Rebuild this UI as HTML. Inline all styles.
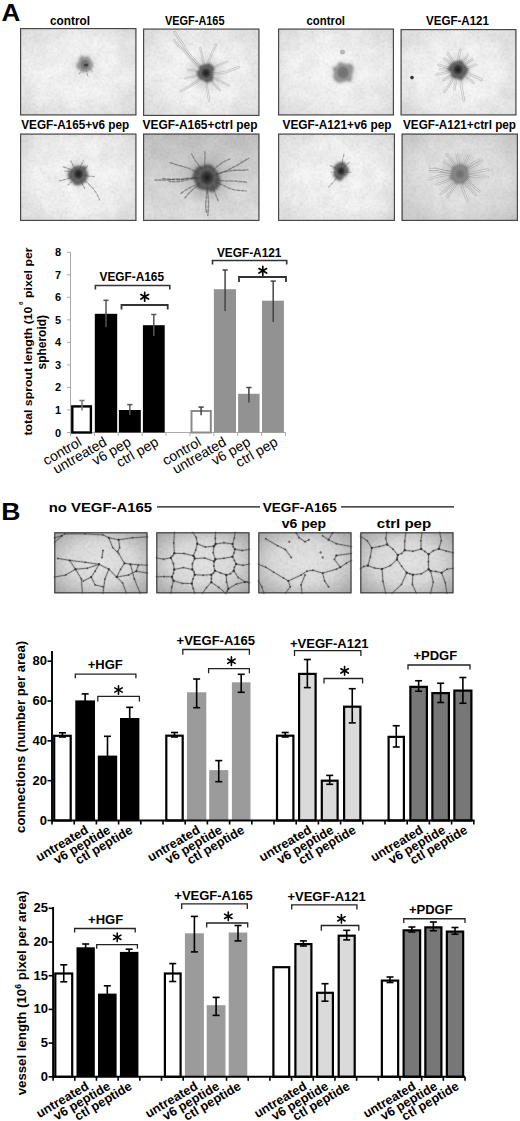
<!DOCTYPE html><html><head><meta charset="utf-8"><style>html,body{margin:0;padding:0;background:#fff;width:520px;height:1121px;overflow:hidden}svg{display:block}</style></head><body>
<svg width="520" height="1121" viewBox="0 0 520 1121" font-family="Liberation Sans, sans-serif">
<defs>
<radialGradient id="vig" cx="50%" cy="50%" r="70%">
<stop offset="0" stop-color="#f9f9f9"/><stop offset="0.55" stop-color="#f4f4f4"/><stop offset="1" stop-color="#e0e0e0"/></radialGradient>
<radialGradient id="vig2" cx="50%" cy="50%" r="70%">
<stop offset="0" stop-color="#e4e4e4"/><stop offset="0.5" stop-color="#dadada"/><stop offset="1" stop-color="#a6a6a6"/></radialGradient>
<radialGradient id="vig8" cx="50%" cy="50%" r="70%"><stop offset="0" stop-color="#ebebeb"/><stop offset="0.55" stop-color="#e2e2e2"/><stop offset="1" stop-color="#c9c9c9"/></radialGradient>
<linearGradient id="vig6" x1="0" y1="0" x2="0" y2="1"><stop offset="0" stop-color="#c4c4c4"/><stop offset="0.5" stop-color="#d8d8d8"/><stop offset="1" stop-color="#e2e2e2"/></linearGradient>
<radialGradient id="blob1"><stop offset="0" stop-color="#555"/><stop offset="0.55" stop-color="#666" stop-opacity="0.9"/><stop offset="1" stop-color="#999" stop-opacity="0"/></radialGradient>
<radialGradient id="blob2"><stop offset="0" stop-color="#1a1a1a"/><stop offset="0.5" stop-color="#3a3a3a" stop-opacity="0.9"/><stop offset="1" stop-color="#888" stop-opacity="0"/></radialGradient>
<radialGradient id="blob3"><stop offset="0" stop-color="#707070"/><stop offset="0.6" stop-color="#787878" stop-opacity="0.95"/><stop offset="1" stop-color="#aaa" stop-opacity="0"/></radialGradient>
<radialGradient id="blob4"><stop offset="0" stop-color="#6a6a6a"/><stop offset="0.5" stop-color="#7a7a7a" stop-opacity="0.85"/><stop offset="1" stop-color="#aaa" stop-opacity="0"/></radialGradient>
<radialGradient id="halo"><stop offset="0" stop-color="#555"/><stop offset="0.4" stop-color="#777" stop-opacity="0.7"/><stop offset="1" stop-color="#999" stop-opacity="0"/></radialGradient>
<filter id="sblur" x="-20%" y="-20%" width="140%" height="140%"><feGaussianBlur stdDeviation="0.65"/></filter>
<filter id="bblur" x="-30%" y="-30%" width="160%" height="160%"><feGaussianBlur stdDeviation="1.1"/></filter>
<filter id="noise" x="0" y="0" width="100%" height="100%"><feTurbulence type="fractalNoise" baseFrequency="0.35" numOctaves="2" seed="3"/><feColorMatrix type="matrix" values="0 0 0 0 0  0 0 0 0 0  0 0 0 0 0  0 0 0 1.6 -0.6"/><feComposite in2="SourceGraphic" operator="in"/></filter>
<filter id="noise2" x="0" y="0" width="100%" height="100%"><feTurbulence type="fractalNoise" baseFrequency="0.06" numOctaves="3" seed="7"/><feColorMatrix type="matrix" values="0 0 0 0 0  0 0 0 0 0  0 0 0 0 0  0 0 0 1.2 -0.3"/><feComposite in2="SourceGraphic" operator="in"/></filter>
</defs>
<rect x="0" y="0" width="520" height="1121" fill="#fff"/>
<text x="1.6" y="21.4" font-size="23.2" font-weight="bold" text-anchor="start" fill="#000" textLength="18.8" lengthAdjust="spacingAndGlyphs" >A</text>
<g>
<rect x="20" y="28" width="116.5" height="87.5" fill="url(#vig)"/>
<rect x="20" y="28" width="116.5" height="87.5" fill="#000" filter="url(#noise)" opacity="0.06"/>
<rect x="20" y="28" width="116.5" height="87.5" fill="#000" filter="url(#noise2)" opacity="0.07"/>
<g filter="url(#sblur)">
<path d="M85.0 64.5 L86.1 68.4 L86.7 72.3 L87.9 76.1" fill="none" stroke="#555" stroke-width="1" opacity="0.5" stroke-linecap="round" stroke-linejoin="round" stroke-dasharray="3 1.6"/>
<path d="M85.0 64.5 L82.9 67.5 L81.1 70.7 L79.3 73.9" fill="none" stroke="#555" stroke-width="1" opacity="0.5" stroke-linecap="round" stroke-linejoin="round" stroke-dasharray="3 1.6"/>
<path d="M85.0 64.5 L87.6 66.5 L89.9 68.9 L92.4 71.2" fill="none" stroke="#555" stroke-width="1" opacity="0.5" stroke-linecap="round" stroke-linejoin="round" stroke-dasharray="3 1.6"/>
</g>
<circle cx="85" cy="64.5" r="13" fill="url(#halo)" opacity="0.25"/>
<polygon points="93.2,64.5 92.3,67.8 90.5,70.6 87.7,71.6 85.0,71.9 82.0,72.4 80.2,69.8 76.7,68.3 76.4,64.5 78.7,61.6 79.4,58.3 81.6,55.5 85.0,57.3 88.2,56.1 90.0,59.0 91.8,61.4" fill="#7a7a7a" opacity="0.75" filter="url(#bblur)"/>
<ellipse cx="85" cy="64.5" rx="6.24" ry="6.63" fill="url(#blob3)"/>
<ellipse cx="86" cy="65.0" rx="2.2" ry="1.6" fill="#333" opacity="0.8"/>
<rect x="20.6" y="28.6" width="115.3" height="86.3" fill="none" stroke="#444" stroke-width="1.15"/>
</g>
<g>
<rect x="143" y="28.5" width="116.5" height="87.5" fill="url(#vig)"/>
<rect x="143" y="28.5" width="116.5" height="87.5" fill="#000" filter="url(#noise)" opacity="0.06"/>
<rect x="143" y="28.5" width="116.5" height="87.5" fill="#000" filter="url(#noise2)" opacity="0.07"/>
<g filter="url(#sblur)">
<path d="M206.0 73.0 L201.5 68.3 L197.4 63.2 L193.0 58.5 L188.7 53.6 L185.1 48.2 L181.8 42.6 L178.2 37.2 L174.4 31.9" fill="none" stroke="#777" stroke-width="2.5999999999999996" opacity="0.35" stroke-linecap="round" stroke-linejoin="round" stroke-dasharray="4 1.5"/>
<path d="M206.0 73.0 L201.5 68.3 L197.4 63.2 L193.0 58.5 L188.7 53.6 L185.1 48.2 L181.8 42.6 L178.2 37.2 L174.4 31.9" fill="none" stroke="#f4f4f4" stroke-width="0.98" opacity="0.9" stroke-linecap="round" stroke-linejoin="round"/>
<path d="M206.0 73.0 L200.8 68.9 L196.2 64.3 L191.5 59.7 L187.4 54.6 L182.9 49.7 L178.1 45.3 L173.9 40.2" fill="none" stroke="#777" stroke-width="2.4" opacity="0.35" stroke-linecap="round" stroke-linejoin="round" stroke-dasharray="4 1.5"/>
<path d="M206.0 73.0 L200.8 68.9 L196.2 64.3 L191.5 59.7 L187.4 54.6 L182.9 49.7 L178.1 45.3 L173.9 40.2" fill="none" stroke="#f4f4f4" stroke-width="0.84" opacity="0.9" stroke-linecap="round" stroke-linejoin="round"/>
<path d="M206.0 73.0 L204.9 66.6 L202.8 60.4 L201.8 54.0 L200.1 47.7" fill="none" stroke="#777" stroke-width="2.2" opacity="0.35" stroke-linecap="round" stroke-linejoin="round" stroke-dasharray="4 1.5"/>
<path d="M206.0 73.0 L204.9 66.6 L202.8 60.4 L201.8 54.0 L200.1 47.7" fill="none" stroke="#f4f4f4" stroke-width="0.70" opacity="0.9" stroke-linecap="round" stroke-linejoin="round"/>
<path d="M206.0 73.0 L207.5 67.2 L208.7 61.3 L210.9 55.7 L213.2 50.2 L216.0 44.9" fill="none" stroke="#777" stroke-width="2.4" opacity="0.35" stroke-linecap="round" stroke-linejoin="round" stroke-dasharray="4 1.5"/>
<path d="M206.0 73.0 L207.5 67.2 L208.7 61.3 L210.9 55.7 L213.2 50.2 L216.0 44.9" fill="none" stroke="#f4f4f4" stroke-width="0.84" opacity="0.9" stroke-linecap="round" stroke-linejoin="round"/>
<path d="M206.0 73.0 L210.7 69.3 L215.9 66.2 L221.4 63.8 L227.0 61.7" fill="none" stroke="#777" stroke-width="2.2" opacity="0.35" stroke-linecap="round" stroke-linejoin="round" stroke-dasharray="4 1.5"/>
<path d="M206.0 73.0 L210.7 69.3 L215.9 66.2 L221.4 63.8 L227.0 61.7" fill="none" stroke="#f4f4f4" stroke-width="0.70" opacity="0.9" stroke-linecap="round" stroke-linejoin="round"/>
<path d="M206.0 73.0 L212.8 73.5 L219.6 73.0 L226.3 71.9 L232.7 69.6 L239.0 67.0" fill="none" stroke="#777" stroke-width="2.5" opacity="0.35" stroke-linecap="round" stroke-linejoin="round" stroke-dasharray="4 1.5"/>
<path d="M206.0 73.0 L212.8 73.5 L219.6 73.0 L226.3 71.9 L232.7 69.6 L239.0 67.0" fill="none" stroke="#f4f4f4" stroke-width="0.91" opacity="0.9" stroke-linecap="round" stroke-linejoin="round"/>
<path d="M206.0 73.0 L211.5 76.5 L217.3 79.5 L223.0 82.5 L228.8 85.5" fill="none" stroke="#777" stroke-width="2.2" opacity="0.35" stroke-linecap="round" stroke-linejoin="round" stroke-dasharray="4 1.5"/>
<path d="M206.0 73.0 L211.5 76.5 L217.3 79.5 L223.0 82.5 L228.8 85.5" fill="none" stroke="#f4f4f4" stroke-width="0.70" opacity="0.9" stroke-linecap="round" stroke-linejoin="round"/>
<path d="M206.0 73.0 L210.4 78.9 L214.7 84.8 L219.8 90.1" fill="none" stroke="#777" stroke-width="2.2" opacity="0.35" stroke-linecap="round" stroke-linejoin="round" stroke-dasharray="4 1.5"/>
<path d="M206.0 73.0 L210.4 78.9 L214.7 84.8 L219.8 90.1" fill="none" stroke="#f4f4f4" stroke-width="0.70" opacity="0.9" stroke-linecap="round" stroke-linejoin="round"/>
<path d="M206.0 73.0 L206.9 79.9 L206.9 86.9 L208.0 93.9 L209.1 100.8" fill="none" stroke="#777" stroke-width="2.4" opacity="0.35" stroke-linecap="round" stroke-linejoin="round" stroke-dasharray="4 1.5"/>
<path d="M206.0 73.0 L206.9 79.9 L206.9 86.9 L208.0 93.9 L209.1 100.8" fill="none" stroke="#f4f4f4" stroke-width="0.84" opacity="0.9" stroke-linecap="round" stroke-linejoin="round"/>
<path d="M206.0 73.0 L201.3 77.3 L196.6 81.7 L191.2 85.1 L185.8 88.5 L180.3 91.8" fill="none" stroke="#777" stroke-width="2.5" opacity="0.35" stroke-linecap="round" stroke-linejoin="round" stroke-dasharray="4 1.5"/>
<path d="M206.0 73.0 L201.3 77.3 L196.6 81.7 L191.2 85.1 L185.8 88.5 L180.3 91.8" fill="none" stroke="#f4f4f4" stroke-width="0.91" opacity="0.9" stroke-linecap="round" stroke-linejoin="round"/>
<path d="M206.0 73.0 L199.1 75.5 L191.9 76.9 L184.7 78.4" fill="none" stroke="#777" stroke-width="2.2" opacity="0.35" stroke-linecap="round" stroke-linejoin="round" stroke-dasharray="4 1.5"/>
<path d="M206.0 73.0 L199.1 75.5 L191.9 76.9 L184.7 78.4" fill="none" stroke="#f4f4f4" stroke-width="0.70" opacity="0.9" stroke-linecap="round" stroke-linejoin="round"/>
<path d="M206.0 73.0 L200.2 71.3 L194.3 70.5 L188.3 69.9" fill="none" stroke="#777" stroke-width="2.2" opacity="0.35" stroke-linecap="round" stroke-linejoin="round" stroke-dasharray="4 1.5"/>
<path d="M206.0 73.0 L200.2 71.3 L194.3 70.5 L188.3 69.9" fill="none" stroke="#f4f4f4" stroke-width="0.70" opacity="0.9" stroke-linecap="round" stroke-linejoin="round"/>
</g>
<circle cx="206" cy="73" r="22" fill="url(#halo)" opacity="0.35"/>
<polygon points="213.1,73.0 213.2,76.3 212.8,80.5 209.5,82.3 206.0,82.4 203.2,80.6 200.1,79.5 198.1,76.6 196.2,73.0 199.1,69.8 199.5,65.9 202.9,64.7 206.0,64.1 209.7,63.3 212.6,65.8 214.5,69.1" fill="#3a3a3a" opacity="0.75" filter="url(#bblur)"/>
<ellipse cx="206" cy="73" rx="6.80" ry="7.22" fill="url(#blob2)"/>
<rect x="143.6" y="29.1" width="115.3" height="86.3" fill="none" stroke="#444" stroke-width="1.15"/>
</g>
<g>
<rect x="278" y="28.5" width="116" height="87.0" fill="url(#vig)"/>
<rect x="278" y="28.5" width="116" height="87.0" fill="#000" filter="url(#noise)" opacity="0.06"/>
<rect x="278" y="28.5" width="116" height="87.0" fill="#000" filter="url(#noise2)" opacity="0.07"/>
<g filter="url(#sblur)">
</g>
<circle cx="343" cy="72.5" r="16" fill="url(#halo)" opacity="0.2"/>
<polygon points="352.7,72.5 351.7,76.4 351.3,81.7 346.3,81.2 343.0,82.0 339.0,83.1 335.3,81.0 333.0,77.1 334.1,72.5 332.5,67.7 337.0,65.9 339.1,62.1 343.0,63.1 346.2,64.0 351.0,63.7 353.8,67.6" fill="#7a7a7a" opacity="0.75" filter="url(#bblur)"/>
<ellipse cx="343" cy="72.5" rx="8.00" ry="8.50" fill="url(#blob3)"/>
<rect x="278.6" y="29.1" width="114.8" height="85.8" fill="none" stroke="#444" stroke-width="1.15"/>
</g>
<g>
<rect x="400.5" y="29" width="116.0" height="86.5" fill="url(#vig)"/>
<rect x="400.5" y="29" width="116.0" height="86.5" fill="#000" filter="url(#noise)" opacity="0.06"/>
<rect x="400.5" y="29" width="116.0" height="86.5" fill="#000" filter="url(#noise2)" opacity="0.07"/>
<g filter="url(#sblur)">
<path d="M458.0 69.5 L451.4 68.3 L444.9 67.1 L438.6 64.8" fill="none" stroke="#777" stroke-width="2.5" opacity="0.35" stroke-linecap="round" stroke-linejoin="round" stroke-dasharray="4 1.5"/>
<path d="M458.0 69.5 L451.4 68.3 L444.9 67.1 L438.6 64.8" fill="none" stroke="#f4f4f4" stroke-width="0.91" opacity="0.9" stroke-linecap="round" stroke-linejoin="round"/>
<path d="M458.0 69.5 L453.3 65.7 L448.8 61.8 L444.0 58.2" fill="none" stroke="#777" stroke-width="2.5" opacity="0.35" stroke-linecap="round" stroke-linejoin="round" stroke-dasharray="4 1.5"/>
<path d="M458.0 69.5 L453.3 65.7 L448.8 61.8 L444.0 58.2" fill="none" stroke="#f4f4f4" stroke-width="0.91" opacity="0.9" stroke-linecap="round" stroke-linejoin="round"/>
<path d="M458.0 69.5 L454.4 63.1 L449.9 57.3 L446.4 50.9" fill="none" stroke="#777" stroke-width="2.5" opacity="0.35" stroke-linecap="round" stroke-linejoin="round" stroke-dasharray="4 1.5"/>
<path d="M458.0 69.5 L454.4 63.1 L449.9 57.3 L446.4 50.9" fill="none" stroke="#f4f4f4" stroke-width="0.91" opacity="0.9" stroke-linecap="round" stroke-linejoin="round"/>
<path d="M458.0 69.5 L458.1 62.8 L459.0 56.2 L460.2 49.7" fill="none" stroke="#777" stroke-width="2.5" opacity="0.35" stroke-linecap="round" stroke-linejoin="round" stroke-dasharray="4 1.5"/>
<path d="M458.0 69.5 L458.1 62.8 L459.0 56.2 L460.2 49.7" fill="none" stroke="#f4f4f4" stroke-width="0.91" opacity="0.9" stroke-linecap="round" stroke-linejoin="round"/>
<path d="M458.0 69.5 L461.1 64.4 L464.9 59.7 L467.8 54.5" fill="none" stroke="#777" stroke-width="2.5" opacity="0.35" stroke-linecap="round" stroke-linejoin="round" stroke-dasharray="4 1.5"/>
<path d="M458.0 69.5 L461.1 64.4 L464.9 59.7 L467.8 54.5" fill="none" stroke="#f4f4f4" stroke-width="0.91" opacity="0.9" stroke-linecap="round" stroke-linejoin="round"/>
<path d="M458.0 69.5 L462.8 66.6 L467.2 62.9 L471.8 59.6" fill="none" stroke="#777" stroke-width="2.5" opacity="0.35" stroke-linecap="round" stroke-linejoin="round" stroke-dasharray="4 1.5"/>
<path d="M458.0 69.5 L462.8 66.6 L467.2 62.9 L471.8 59.6" fill="none" stroke="#f4f4f4" stroke-width="0.91" opacity="0.9" stroke-linecap="round" stroke-linejoin="round"/>
<path d="M458.0 69.5 L464.2 68.1 L470.4 66.9 L476.3 64.7" fill="none" stroke="#777" stroke-width="2.5" opacity="0.35" stroke-linecap="round" stroke-linejoin="round" stroke-dasharray="4 1.5"/>
<path d="M458.0 69.5 L464.2 68.1 L470.4 66.9 L476.3 64.7" fill="none" stroke="#f4f4f4" stroke-width="0.91" opacity="0.9" stroke-linecap="round" stroke-linejoin="round"/>
<path d="M458.0 69.5 L464.0 72.1 L470.1 74.3 L476.0 77.1 L481.8 80.0" fill="none" stroke="#777" stroke-width="2.5999999999999996" opacity="0.35" stroke-linecap="round" stroke-linejoin="round" stroke-dasharray="4 1.5"/>
<path d="M458.0 69.5 L464.0 72.1 L470.1 74.3 L476.0 77.1 L481.8 80.0" fill="none" stroke="#f4f4f4" stroke-width="0.98" opacity="0.9" stroke-linecap="round" stroke-linejoin="round"/>
<path d="M458.0 69.5 L463.2 73.6 L467.9 78.3 L473.2 82.5" fill="none" stroke="#777" stroke-width="2.5" opacity="0.35" stroke-linecap="round" stroke-linejoin="round" stroke-dasharray="4 1.5"/>
<path d="M458.0 69.5 L463.2 73.6 L467.9 78.3 L473.2 82.5" fill="none" stroke="#f4f4f4" stroke-width="0.91" opacity="0.9" stroke-linecap="round" stroke-linejoin="round"/>
<path d="M458.0 69.5 L459.5 75.7 L460.9 82.0 L461.7 88.3 L462.8 94.6 L464.0 100.9" fill="none" stroke="#777" stroke-width="2.5999999999999996" opacity="0.35" stroke-linecap="round" stroke-linejoin="round" stroke-dasharray="4 1.5"/>
<path d="M458.0 69.5 L459.5 75.7 L460.9 82.0 L461.7 88.3 L462.8 94.6 L464.0 100.9" fill="none" stroke="#f4f4f4" stroke-width="0.98" opacity="0.9" stroke-linecap="round" stroke-linejoin="round"/>
<path d="M458.0 69.5 L456.5 76.7 L455.4 83.9 L453.9 91.1" fill="none" stroke="#777" stroke-width="2.5" opacity="0.35" stroke-linecap="round" stroke-linejoin="round" stroke-dasharray="4 1.5"/>
<path d="M458.0 69.5 L456.5 76.7 L455.4 83.9 L453.9 91.1" fill="none" stroke="#f4f4f4" stroke-width="0.91" opacity="0.9" stroke-linecap="round" stroke-linejoin="round"/>
<path d="M458.0 69.5 L454.7 75.1 L451.7 80.9 L448.5 86.5 L444.7 91.8" fill="none" stroke="#777" stroke-width="2.5" opacity="0.35" stroke-linecap="round" stroke-linejoin="round" stroke-dasharray="4 1.5"/>
<path d="M458.0 69.5 L454.7 75.1 L451.7 80.9 L448.5 86.5 L444.7 91.8" fill="none" stroke="#f4f4f4" stroke-width="0.91" opacity="0.9" stroke-linecap="round" stroke-linejoin="round"/>
<path d="M458.0 69.5 L453.1 72.9 L448.6 76.9 L443.6 80.2" fill="none" stroke="#777" stroke-width="2.5" opacity="0.35" stroke-linecap="round" stroke-linejoin="round" stroke-dasharray="4 1.5"/>
<path d="M458.0 69.5 L453.1 72.9 L448.6 76.9 L443.6 80.2" fill="none" stroke="#f4f4f4" stroke-width="0.91" opacity="0.9" stroke-linecap="round" stroke-linejoin="round"/>
<path d="M458.0 69.5 L450.8 71.1 L443.7 72.9 L436.6 74.7" fill="none" stroke="#777" stroke-width="2.5" opacity="0.35" stroke-linecap="round" stroke-linejoin="round" stroke-dasharray="4 1.5"/>
<path d="M458.0 69.5 L450.8 71.1 L443.7 72.9 L436.6 74.7" fill="none" stroke="#f4f4f4" stroke-width="0.91" opacity="0.9" stroke-linecap="round" stroke-linejoin="round"/>
<path d="M458.0 69.5 L452.0 68.9 L446.0 69.3 L440.0 69.2" fill="none" stroke="#777" stroke-width="2.5" opacity="0.35" stroke-linecap="round" stroke-linejoin="round" stroke-dasharray="4 1.5"/>
<path d="M458.0 69.5 L452.0 68.9 L446.0 69.3 L440.0 69.2" fill="none" stroke="#f4f4f4" stroke-width="0.91" opacity="0.9" stroke-linecap="round" stroke-linejoin="round"/>
</g>
<circle cx="458" cy="69.5" r="18" fill="url(#halo)" opacity="0.35"/>
<polygon points="468.9,69.5 466.7,73.5 464.5,76.6 462.1,80.4 458.0,78.9 454.7,78.2 451.2,77.0 451.1,72.6 447.1,69.5 449.5,65.6 452.0,62.9 454.9,61.4 458.0,60.9 461.5,60.1 463.5,63.4 465.7,66.0" fill="#3a3a3a" opacity="0.75" filter="url(#bblur)"/>
<ellipse cx="458" cy="69.5" rx="7.20" ry="7.65" fill="url(#blob2)"/>
<rect x="401.1" y="29.6" width="114.8" height="85.3" fill="none" stroke="#444" stroke-width="1.15"/>
</g>
<g>
<rect x="20" y="133.5" width="116.5" height="87.5" fill="url(#vig)"/>
<rect x="20" y="133.5" width="116.5" height="87.5" fill="#000" filter="url(#noise)" opacity="0.06"/>
<rect x="20" y="133.5" width="116.5" height="87.5" fill="#000" filter="url(#noise2)" opacity="0.07"/>
<g filter="url(#sblur)">
<path d="M78.5 174.0 L73.4 170.9 L67.9 168.4 L62.2 166.5" fill="none" stroke="#444" stroke-width="1.2" opacity="0.45" stroke-linecap="round" stroke-linejoin="round" stroke-dasharray="3 1.6"/>
<path d="M78.5 174.0 L75.6 169.9 L73.2 165.6 L70.8 161.1" fill="none" stroke="#444" stroke-width="1.2" opacity="0.45" stroke-linecap="round" stroke-linejoin="round" stroke-dasharray="3 1.6"/>
<path d="M78.5 174.0 L79.7 169.5 L81.1 165.0 L83.2 160.9" fill="none" stroke="#444" stroke-width="1.2" opacity="0.45" stroke-linecap="round" stroke-linejoin="round" stroke-dasharray="3 1.6"/>
<path d="M78.5 174.0 L81.7 171.6 L84.8 169.1 L87.5 166.1" fill="none" stroke="#444" stroke-width="1.2" opacity="0.45" stroke-linecap="round" stroke-linejoin="round" stroke-dasharray="3 1.6"/>
<path d="M78.5 174.0 L83.7 175.3 L88.9 176.1 L94.3 176.6" fill="none" stroke="#444" stroke-width="1.2" opacity="0.45" stroke-linecap="round" stroke-linejoin="round" stroke-dasharray="3 1.6"/>
<path d="M78.5 174.0 L83.2 179.0 L88.2 183.5 L93.0 188.4 L96.9 193.9 L99.8 200.0" fill="none" stroke="#444" stroke-width="1.1" opacity="0.45" stroke-linecap="round" stroke-linejoin="round" stroke-dasharray="3 1.6"/>
<path d="M78.5 174.0 L80.3 179.0 L82.2 184.0 L84.8 188.7" fill="none" stroke="#444" stroke-width="1.2" opacity="0.45" stroke-linecap="round" stroke-linejoin="round" stroke-dasharray="3 1.6"/>
<path d="M78.5 174.0 L75.3 177.9 L71.9 181.5 L68.2 184.8" fill="none" stroke="#444" stroke-width="1.2" opacity="0.45" stroke-linecap="round" stroke-linejoin="round" stroke-dasharray="3 1.6"/>
<path d="M78.5 174.0 L72.3 176.5 L66.2 179.2 L59.8 180.9" fill="none" stroke="#444" stroke-width="1.2" opacity="0.45" stroke-linecap="round" stroke-linejoin="round" stroke-dasharray="3 1.6"/>
<path d="M78.5 174.0 L74.1 172.5 L69.5 171.4 L64.9 171.1" fill="none" stroke="#444" stroke-width="1.2" opacity="0.45" stroke-linecap="round" stroke-linejoin="round" stroke-dasharray="3 1.6"/>
</g>
<circle cx="78.5" cy="174" r="16" fill="url(#halo)" opacity="0.35"/>
<polygon points="88.2,174.0 87.3,178.0 85.6,181.8 82.3,184.1 78.5,185.5 74.4,185.0 72.0,181.2 68.5,178.5 67.6,174.0 70.1,170.2 72.8,167.8 75.5,165.9 78.5,165.8 81.5,166.1 85.9,165.9 86.3,170.5" fill="#3a3a3a" opacity="0.75" filter="url(#bblur)"/>
<ellipse cx="78.5" cy="174" rx="7.20" ry="7.65" fill="url(#blob2)"/>
<rect x="20.6" y="134.1" width="115.3" height="86.3" fill="none" stroke="#444" stroke-width="1.15"/>
</g>
<g>
<rect x="143" y="133.5" width="116.5" height="87.5" fill="url(#vig6)"/>
<rect x="143" y="133.5" width="116.5" height="87.5" fill="#000" filter="url(#noise)" opacity="0.06"/>
<rect x="143" y="133.5" width="116.5" height="87.5" fill="#000" filter="url(#noise2)" opacity="0.07"/>
<g filter="url(#sblur)">
<path d="M207.0 177.5 L200.5 177.4 L194.0 178.1 L187.6 178.4 L181.1 179.2 L174.6 179.0 L168.2 180.0 L161.7 180.0 L155.2 180.1" fill="none" stroke="#444" stroke-width="1.6" opacity="0.5" stroke-linecap="round" stroke-linejoin="round" stroke-dasharray="3 1.6"/>
<path d="M207.0 177.5 L200.9 174.8 L195.2 171.3 L189.2 168.4 L182.8 166.5 L176.4 164.7 L170.1 162.6" fill="none" stroke="#444" stroke-width="1.4" opacity="0.5" stroke-linecap="round" stroke-linejoin="round" stroke-dasharray="3 1.6"/>
<path d="M207.0 177.5 L200.6 177.7 L194.1 177.9 L187.8 178.6 L181.4 179.6 L175.0 179.9 L168.6 179.2 L162.2 178.5" fill="none" stroke="#444" stroke-width="1.4" opacity="0.5" stroke-linecap="round" stroke-linejoin="round" stroke-dasharray="3 1.6"/>
<path d="M207.0 177.5 L200.7 178.4 L194.4 178.5 L188.2 179.6 L182.0 181.2 L175.7 181.9 L169.4 181.5" fill="none" stroke="#444" stroke-width="1.4" opacity="0.5" stroke-linecap="round" stroke-linejoin="round" stroke-dasharray="3 1.6"/>
<path d="M207.0 177.5 L203.4 171.5 L199.3 165.8 L195.1 160.3 L191.7 154.1" fill="none" stroke="#444" stroke-width="1.4" opacity="0.5" stroke-linecap="round" stroke-linejoin="round" stroke-dasharray="3 1.6"/>
<path d="M207.0 177.5 L205.7 171.1 L204.8 164.7 L204.9 158.2 L205.0 151.7" fill="none" stroke="#444" stroke-width="1.4" opacity="0.5" stroke-linecap="round" stroke-linejoin="round" stroke-dasharray="3 1.6"/>
<path d="M207.0 177.5 L210.9 172.9 L214.8 168.4 L219.5 164.6 L224.5 161.3 L229.9 158.8" fill="none" stroke="#444" stroke-width="1.4" opacity="0.5" stroke-linecap="round" stroke-linejoin="round" stroke-dasharray="3 1.6"/>
<path d="M207.0 177.5 L212.6 175.5 L218.4 173.8 L224.1 171.9 L230.0 170.8 L236.0 170.1 L241.9 170.4 L247.9 169.8" fill="none" stroke="#444" stroke-width="1.5" opacity="0.5" stroke-linecap="round" stroke-linejoin="round" stroke-dasharray="3 1.6"/>
<path d="M207.0 177.5 L213.3 175.8 L219.4 173.3 L225.6 171.1 L231.5 168.1 L237.3 165.2 L242.9 161.7 L248.6 158.3" fill="none" stroke="#444" stroke-width="1.5" opacity="0.5" stroke-linecap="round" stroke-linejoin="round" stroke-dasharray="3 1.6"/>
<path d="M207.0 177.5 L213.5 179.0 L220.0 180.5 L226.7 180.9 L233.3 180.9 L240.0 181.5 L246.6 182.2" fill="none" stroke="#444" stroke-width="1.5" opacity="0.5" stroke-linecap="round" stroke-linejoin="round" stroke-dasharray="3 1.6"/>
<path d="M207.0 177.5 L212.5 180.0 L217.6 183.1 L223.2 185.2 L228.5 188.0 L234.3 189.8 L240.2 190.6 L246.2 190.9" fill="none" stroke="#444" stroke-width="1.4" opacity="0.5" stroke-linecap="round" stroke-linejoin="round" stroke-dasharray="3 1.6"/>
<path d="M207.0 177.5 L210.7 182.9 L213.5 188.7 L215.7 194.8 L218.2 200.8" fill="none" stroke="#444" stroke-width="1.4" opacity="0.5" stroke-linecap="round" stroke-linejoin="round" stroke-dasharray="3 1.6"/>
<path d="M207.0 177.5 L207.4 183.8 L207.3 190.2 L208.1 196.4 L208.6 202.8 L208.3 209.1 L207.8 215.4" fill="none" stroke="#444" stroke-width="1.6" opacity="0.5" stroke-linecap="round" stroke-linejoin="round" stroke-dasharray="3 1.6"/>
<path d="M207.0 177.5 L206.8 183.5 L206.9 189.5 L206.6 195.5 L205.9 201.4 L205.7 207.4 L206.6 213.4" fill="none" stroke="#444" stroke-width="1.5" opacity="0.5" stroke-linecap="round" stroke-linejoin="round" stroke-dasharray="3 1.6"/>
<path d="M207.0 177.5 L202.7 181.7 L198.0 185.4 L193.2 189.1 L188.9 193.2 L185.0 197.7" fill="none" stroke="#444" stroke-width="1.4" opacity="0.5" stroke-linecap="round" stroke-linejoin="round" stroke-dasharray="3 1.6"/>
<path d="M207.0 177.5 L202.0 181.4 L196.5 184.7 L190.6 187.3 L185.0 190.5 L179.9 194.2" fill="none" stroke="#444" stroke-width="1.4" opacity="0.5" stroke-linecap="round" stroke-linejoin="round" stroke-dasharray="3 1.6"/>
</g>
<circle cx="207" cy="177.5" r="30" fill="url(#halo)" opacity="0.5"/>
<polygon points="220.0,177.5 220.9,183.8 217.3,188.9 212.6,192.3 207.0,190.5 202.4,189.7 197.3,188.2 195.3,182.8 192.1,177.5 193.8,171.5 197.2,166.7 202.6,165.8 207.0,164.2 211.7,165.1 214.9,168.8 218.1,172.4" fill="#3a3a3a" opacity="0.75" filter="url(#bblur)"/>
<ellipse cx="207" cy="177.5" rx="10.00" ry="10.62" fill="url(#blob2)"/>
<rect x="143.6" y="134.1" width="115.3" height="86.3" fill="none" stroke="#444" stroke-width="1.15"/>
</g>
<g>
<rect x="278" y="133.5" width="117" height="87.5" fill="url(#vig)"/>
<rect x="278" y="133.5" width="117" height="87.5" fill="#000" filter="url(#noise)" opacity="0.06"/>
<rect x="278" y="133.5" width="117" height="87.5" fill="#000" filter="url(#noise2)" opacity="0.07"/>
<g filter="url(#sblur)">
<path d="M341.0 171.0 L342.1 165.1 L342.7 159.1 L344.2 153.3" fill="none" stroke="#444" stroke-width="1.2" opacity="0.4" stroke-linecap="round" stroke-linejoin="round" stroke-dasharray="3 1.6"/>
<path d="M341.0 171.0 L343.4 167.8 L346.2 165.0 L349.3 162.4" fill="none" stroke="#444" stroke-width="1.2" opacity="0.4" stroke-linecap="round" stroke-linejoin="round" stroke-dasharray="3 1.6"/>
<path d="M341.0 171.0 L344.3 171.4 L347.5 172.2 L350.9 172.4" fill="none" stroke="#444" stroke-width="1.2" opacity="0.4" stroke-linecap="round" stroke-linejoin="round" stroke-dasharray="3 1.6"/>
<path d="M341.0 171.0 L337.5 176.7 L333.5 182.0 L328.8 186.8" fill="none" stroke="#444" stroke-width="1.2" opacity="0.4" stroke-linecap="round" stroke-linejoin="round" stroke-dasharray="3 1.6"/>
<path d="M341.0 171.0 L337.7 171.6 L334.4 172.0 L331.1 172.2" fill="none" stroke="#444" stroke-width="1.2" opacity="0.4" stroke-linecap="round" stroke-linejoin="round" stroke-dasharray="3 1.6"/>
<path d="M341.0 171.0 L337.5 169.0 L333.9 167.3 L330.3 165.6" fill="none" stroke="#444" stroke-width="1.2" opacity="0.4" stroke-linecap="round" stroke-linejoin="round" stroke-dasharray="3 1.6"/>
</g>
<circle cx="341" cy="171" r="12" fill="url(#halo)" opacity="0.3"/>
<polygon points="349.3,171.0 347.3,173.9 345.6,176.1 343.4,177.4 341.0,180.9 337.5,180.2 334.8,177.8 332.9,174.7 334.6,171.0 333.0,167.4 335.6,165.0 337.9,162.7 341.0,161.9 344.4,161.9 346.2,165.3 348.0,167.8" fill="#3a3a3a" opacity="0.75" filter="url(#bblur)"/>
<ellipse cx="341" cy="171" rx="6.00" ry="6.38" fill="url(#blob2)"/>
<rect x="278.6" y="134.1" width="115.8" height="86.3" fill="none" stroke="#444" stroke-width="1.15"/>
</g>
<g>
<rect x="401.5" y="133.5" width="116.5" height="87.5" fill="url(#vig8)"/>
<rect x="401.5" y="133.5" width="116.5" height="87.5" fill="#000" filter="url(#noise)" opacity="0.06"/>
<rect x="401.5" y="133.5" width="116.5" height="87.5" fill="#000" filter="url(#noise2)" opacity="0.07"/>
<g filter="url(#sblur)">
<path d="M460.0 174.0 L454.2 172.7 L448.2 171.6 L442.2 171.5 L436.2 171.2 L430.2 171.2" fill="none" stroke="#777" stroke-width="2.5" opacity="0.35" stroke-linecap="round" stroke-linejoin="round" stroke-dasharray="4 1.5"/>
<path d="M460.0 174.0 L454.2 172.7 L448.2 171.6 L442.2 171.5 L436.2 171.2 L430.2 171.2" fill="none" stroke="#f4f4f4" stroke-width="0.91" opacity="0.9" stroke-linecap="round" stroke-linejoin="round"/>
<path d="M460.0 174.0 L453.7 172.3 L447.3 171.6 L440.9 170.4 L434.7 168.5" fill="none" stroke="#777" stroke-width="2.5" opacity="0.35" stroke-linecap="round" stroke-linejoin="round" stroke-dasharray="4 1.5"/>
<path d="M460.0 174.0 L453.7 172.3 L447.3 171.6 L440.9 170.4 L434.7 168.5" fill="none" stroke="#f4f4f4" stroke-width="0.91" opacity="0.9" stroke-linecap="round" stroke-linejoin="round"/>
<path d="M460.0 174.0 L454.4 169.3 L448.7 164.7 L442.5 160.8" fill="none" stroke="#777" stroke-width="2.5" opacity="0.35" stroke-linecap="round" stroke-linejoin="round" stroke-dasharray="4 1.5"/>
<path d="M460.0 174.0 L454.4 169.3 L448.7 164.7 L442.5 160.8" fill="none" stroke="#f4f4f4" stroke-width="0.91" opacity="0.9" stroke-linecap="round" stroke-linejoin="round"/>
<path d="M460.0 174.0 L457.0 168.8 L454.1 163.5 L450.4 158.8 L446.8 154.0" fill="none" stroke="#777" stroke-width="2.5" opacity="0.35" stroke-linecap="round" stroke-linejoin="round" stroke-dasharray="4 1.5"/>
<path d="M460.0 174.0 L457.0 168.8 L454.1 163.5 L450.4 158.8 L446.8 154.0" fill="none" stroke="#f4f4f4" stroke-width="0.91" opacity="0.9" stroke-linecap="round" stroke-linejoin="round"/>
<path d="M460.0 174.0 L458.9 166.7 L457.9 159.5 L456.5 152.3" fill="none" stroke="#777" stroke-width="2.5" opacity="0.35" stroke-linecap="round" stroke-linejoin="round" stroke-dasharray="4 1.5"/>
<path d="M460.0 174.0 L458.9 166.7 L457.9 159.5 L456.5 152.3" fill="none" stroke="#f4f4f4" stroke-width="0.91" opacity="0.9" stroke-linecap="round" stroke-linejoin="round"/>
<path d="M460.0 174.0 L463.4 167.5 L466.1 160.7 L469.3 154.1" fill="none" stroke="#777" stroke-width="2.5" opacity="0.35" stroke-linecap="round" stroke-linejoin="round" stroke-dasharray="4 1.5"/>
<path d="M460.0 174.0 L463.4 167.5 L466.1 160.7 L469.3 154.1" fill="none" stroke="#f4f4f4" stroke-width="0.91" opacity="0.9" stroke-linecap="round" stroke-linejoin="round"/>
<path d="M460.0 174.0 L464.5 170.1 L469.0 166.0 L473.9 162.7 L479.3 159.9" fill="none" stroke="#777" stroke-width="2.5" opacity="0.35" stroke-linecap="round" stroke-linejoin="round" stroke-dasharray="4 1.5"/>
<path d="M460.0 174.0 L464.5 170.1 L469.0 166.0 L473.9 162.7 L479.3 159.9" fill="none" stroke="#f4f4f4" stroke-width="0.91" opacity="0.9" stroke-linecap="round" stroke-linejoin="round"/>
<path d="M460.0 174.0 L465.7 170.8 L471.1 167.3 L476.9 164.3 L482.3 160.6" fill="none" stroke="#777" stroke-width="2.5" opacity="0.35" stroke-linecap="round" stroke-linejoin="round" stroke-dasharray="4 1.5"/>
<path d="M460.0 174.0 L465.7 170.8 L471.1 167.3 L476.9 164.3 L482.3 160.6" fill="none" stroke="#f4f4f4" stroke-width="0.91" opacity="0.9" stroke-linecap="round" stroke-linejoin="round"/>
<path d="M460.0 174.0 L466.9 172.8 L473.9 172.5 L480.7 171.0 L487.6 169.7" fill="none" stroke="#777" stroke-width="2.5" opacity="0.35" stroke-linecap="round" stroke-linejoin="round" stroke-dasharray="4 1.5"/>
<path d="M460.0 174.0 L466.9 172.8 L473.9 172.5 L480.7 171.0 L487.6 169.7" fill="none" stroke="#f4f4f4" stroke-width="0.91" opacity="0.9" stroke-linecap="round" stroke-linejoin="round"/>
<path d="M460.0 174.0 L466.9 175.2 L473.8 176.2 L480.8 177.1 L487.8 177.1" fill="none" stroke="#777" stroke-width="2.5" opacity="0.35" stroke-linecap="round" stroke-linejoin="round" stroke-dasharray="4 1.5"/>
<path d="M460.0 174.0 L466.9 175.2 L473.8 176.2 L480.8 177.1 L487.8 177.1" fill="none" stroke="#f4f4f4" stroke-width="0.91" opacity="0.9" stroke-linecap="round" stroke-linejoin="round"/>
<path d="M460.0 174.0 L465.1 178.0 L469.6 182.7 L474.3 187.2 L479.3 191.3" fill="none" stroke="#777" stroke-width="2.5" opacity="0.35" stroke-linecap="round" stroke-linejoin="round" stroke-dasharray="4 1.5"/>
<path d="M460.0 174.0 L465.1 178.0 L469.6 182.7 L474.3 187.2 L479.3 191.3" fill="none" stroke="#f4f4f4" stroke-width="0.91" opacity="0.9" stroke-linecap="round" stroke-linejoin="round"/>
<path d="M460.0 174.0 L462.9 179.8 L466.7 185.1 L471.2 189.8 L475.5 194.7" fill="none" stroke="#777" stroke-width="2.5" opacity="0.35" stroke-linecap="round" stroke-linejoin="round" stroke-dasharray="4 1.5"/>
<path d="M460.0 174.0 L462.9 179.8 L466.7 185.1 L471.2 189.8 L475.5 194.7" fill="none" stroke="#f4f4f4" stroke-width="0.91" opacity="0.9" stroke-linecap="round" stroke-linejoin="round"/>
<path d="M460.0 174.0 L461.4 180.9 L462.5 187.8 L464.6 194.5 L467.6 200.8" fill="none" stroke="#777" stroke-width="2.5" opacity="0.35" stroke-linecap="round" stroke-linejoin="round" stroke-dasharray="4 1.5"/>
<path d="M460.0 174.0 L461.4 180.9 L462.5 187.8 L464.6 194.5 L467.6 200.8" fill="none" stroke="#f4f4f4" stroke-width="0.91" opacity="0.9" stroke-linecap="round" stroke-linejoin="round"/>
<path d="M460.0 174.0 L457.9 180.2 L455.0 186.0 L451.2 191.3 L447.3 196.4" fill="none" stroke="#777" stroke-width="2.5" opacity="0.35" stroke-linecap="round" stroke-linejoin="round" stroke-dasharray="4 1.5"/>
<path d="M460.0 174.0 L457.9 180.2 L455.0 186.0 L451.2 191.3 L447.3 196.4" fill="none" stroke="#f4f4f4" stroke-width="0.91" opacity="0.9" stroke-linecap="round" stroke-linejoin="round"/>
<path d="M460.0 174.0 L456.0 179.7 L451.2 184.9 L446.1 189.7 L440.6 194.0" fill="none" stroke="#777" stroke-width="2.5" opacity="0.35" stroke-linecap="round" stroke-linejoin="round" stroke-dasharray="4 1.5"/>
<path d="M460.0 174.0 L456.0 179.7 L451.2 184.9 L446.1 189.7 L440.6 194.0" fill="none" stroke="#f4f4f4" stroke-width="0.91" opacity="0.9" stroke-linecap="round" stroke-linejoin="round"/>
<path d="M460.0 174.0 L454.5 177.4 L448.6 180.2 L442.5 182.5 L436.3 184.4" fill="none" stroke="#777" stroke-width="2.5" opacity="0.35" stroke-linecap="round" stroke-linejoin="round" stroke-dasharray="4 1.5"/>
<path d="M460.0 174.0 L454.5 177.4 L448.6 180.2 L442.5 182.5 L436.3 184.4" fill="none" stroke="#f4f4f4" stroke-width="0.91" opacity="0.9" stroke-linecap="round" stroke-linejoin="round"/>
<path d="M460.0 174.0 L453.6 174.4 L447.2 174.6 L440.9 175.7 L434.7 177.3 L428.5 178.7" fill="none" stroke="#777" stroke-width="2.5" opacity="0.35" stroke-linecap="round" stroke-linejoin="round" stroke-dasharray="4 1.5"/>
<path d="M460.0 174.0 L453.6 174.4 L447.2 174.6 L440.9 175.7 L434.7 177.3 L428.5 178.7" fill="none" stroke="#f4f4f4" stroke-width="0.91" opacity="0.9" stroke-linecap="round" stroke-linejoin="round"/>
<path d="M460.0 174.0 L454.1 172.8 L448.1 172.3 L442.3 170.8 L436.4 169.6 L430.4 169.5" fill="none" stroke="#777" stroke-width="2.5" opacity="0.35" stroke-linecap="round" stroke-linejoin="round" stroke-dasharray="4 1.5"/>
<path d="M460.0 174.0 L454.1 172.8 L448.1 172.3 L442.3 170.8 L436.4 169.6 L430.4 169.5" fill="none" stroke="#f4f4f4" stroke-width="0.91" opacity="0.9" stroke-linecap="round" stroke-linejoin="round"/>
</g>
<circle cx="460" cy="174" r="26" fill="url(#halo)" opacity="0.35"/>
<polygon points="468.1,174.0 469.3,178.2 465.8,180.4 463.9,184.4 460.0,183.5 456.1,184.3 453.6,181.0 449.4,178.8 450.6,174.0 451.6,170.2 452.7,165.9 456.8,165.5 460.0,163.3 463.4,164.9 467.2,166.0 468.1,170.3" fill="#707070" opacity="0.75" filter="url(#bblur)"/>
<ellipse cx="460" cy="174" rx="7.60" ry="8.07" fill="url(#blob4)"/>
<rect x="402.1" y="134.1" width="115.3" height="86.3" fill="none" stroke="#444" stroke-width="1.15"/>
</g>
<circle cx="412" cy="77.6" r="1.8" fill="#333"/>
<ellipse cx="342.5" cy="52" rx="2.5" ry="2.5" fill="#aaa" filter="url(#sblur)" opacity="0.8"/>
<text x="50" y="25" font-size="12.2" font-weight="bold" text-anchor="start" fill="#000" textLength="40" lengthAdjust="spacingAndGlyphs" >control</text>
<text x="165" y="25" font-size="12.2" font-weight="bold" text-anchor="start" fill="#000" textLength="59.5" lengthAdjust="spacingAndGlyphs" >VEGF-A165</text>
<text x="306.5" y="25" font-size="12.2" font-weight="bold" text-anchor="start" fill="#000" textLength="38.5" lengthAdjust="spacingAndGlyphs" >control</text>
<text x="426" y="25" font-size="12.2" font-weight="bold" text-anchor="start" fill="#000" textLength="63" lengthAdjust="spacingAndGlyphs" >VEGF-A121</text>
<text x="21.25" y="128.75" font-size="12.2" font-weight="bold" text-anchor="start" fill="#000" textLength="108.0" lengthAdjust="spacingAndGlyphs" >VEGF-A165+v6 pep</text>
<text x="142.5" y="128.75" font-size="12.2" font-weight="bold" text-anchor="start" fill="#000" textLength="115.0" lengthAdjust="spacingAndGlyphs" >VEGF-A165+ctrl pep</text>
<text x="282.5" y="128.75" font-size="12.2" font-weight="bold" text-anchor="start" fill="#000" textLength="109.0" lengthAdjust="spacingAndGlyphs" >VEGF-A121+v6 pep</text>
<text x="403" y="128.75" font-size="12.2" font-weight="bold" text-anchor="start" fill="#000" textLength="113" lengthAdjust="spacingAndGlyphs" >VEGF-A121+ctrl pep</text>
<line x1="70.5" y1="252.3" x2="70.5" y2="433.0" stroke="#aaa" stroke-width="1"/>
<line x1="67.0" y1="432.5" x2="70.5" y2="432.5" stroke="#aaa" stroke-width="1"/>
<text x="61" y="436.5" font-size="11" font-weight="bold" text-anchor="end" fill="#000" >0</text>
<line x1="67.0" y1="409.975" x2="70.5" y2="409.975" stroke="#aaa" stroke-width="1"/>
<text x="61" y="413.975" font-size="11" font-weight="bold" text-anchor="end" fill="#000" >1</text>
<line x1="67.0" y1="387.45" x2="70.5" y2="387.45" stroke="#aaa" stroke-width="1"/>
<text x="61" y="391.45" font-size="11" font-weight="bold" text-anchor="end" fill="#000" >2</text>
<line x1="67.0" y1="364.925" x2="70.5" y2="364.925" stroke="#aaa" stroke-width="1"/>
<text x="61" y="368.925" font-size="11" font-weight="bold" text-anchor="end" fill="#000" >3</text>
<line x1="67.0" y1="342.4" x2="70.5" y2="342.4" stroke="#aaa" stroke-width="1"/>
<text x="61" y="346.4" font-size="11" font-weight="bold" text-anchor="end" fill="#000" >4</text>
<line x1="67.0" y1="319.875" x2="70.5" y2="319.875" stroke="#aaa" stroke-width="1"/>
<text x="61" y="323.875" font-size="11" font-weight="bold" text-anchor="end" fill="#000" >5</text>
<line x1="67.0" y1="297.35" x2="70.5" y2="297.35" stroke="#aaa" stroke-width="1"/>
<text x="61" y="301.35" font-size="11" font-weight="bold" text-anchor="end" fill="#000" >6</text>
<line x1="67.0" y1="274.82500000000005" x2="70.5" y2="274.82500000000005" stroke="#aaa" stroke-width="1"/>
<text x="61" y="278.82500000000005" font-size="11" font-weight="bold" text-anchor="end" fill="#000" >7</text>
<line x1="67.0" y1="252.3" x2="70.5" y2="252.3" stroke="#aaa" stroke-width="1"/>
<text x="61" y="256.3" font-size="11" font-weight="bold" text-anchor="end" fill="#000" >8</text>
<line x1="70.5" y1="432.5" x2="285.5" y2="432.5" stroke="#aaa" stroke-width="1"/>
<line x1="70.5" y1="432.5" x2="70.5" y2="436.0" stroke="#aaa" stroke-width="1"/>
<line x1="94.38888888888889" y1="432.5" x2="94.38888888888889" y2="436.0" stroke="#aaa" stroke-width="1"/>
<line x1="118.27777777777777" y1="432.5" x2="118.27777777777777" y2="436.0" stroke="#aaa" stroke-width="1"/>
<line x1="142.16666666666669" y1="432.5" x2="142.16666666666669" y2="436.0" stroke="#aaa" stroke-width="1"/>
<line x1="166.05555555555554" y1="432.5" x2="166.05555555555554" y2="436.0" stroke="#aaa" stroke-width="1"/>
<line x1="189.94444444444446" y1="432.5" x2="189.94444444444446" y2="436.0" stroke="#aaa" stroke-width="1"/>
<line x1="213.83333333333334" y1="432.5" x2="213.83333333333334" y2="436.0" stroke="#aaa" stroke-width="1"/>
<line x1="237.72222222222223" y1="432.5" x2="237.72222222222223" y2="436.0" stroke="#aaa" stroke-width="1"/>
<line x1="261.6111111111111" y1="432.5" x2="261.6111111111111" y2="436.0" stroke="#aaa" stroke-width="1"/>
<line x1="285.5" y1="432.5" x2="285.5" y2="436.0" stroke="#aaa" stroke-width="1"/>
<rect x="72.3" y="406.4" width="18.6" height="26.100000000000012" fill="#fff" stroke="#000" stroke-width="2.4"/>
<line x1="82" y1="400.5" x2="82" y2="410.6" stroke="#777" stroke-width="1.5"/>
<line x1="79.4" y1="400.5" x2="84.6" y2="400.5" stroke="#777" stroke-width="1.5"/>
<rect x="94.8" y="313.8" width="22.400000000000006" height="118.69999999999999" fill="#000"/>
<line x1="106" y1="300.3" x2="106" y2="327" stroke="#555" stroke-width="1.5"/>
<line x1="103.4" y1="300.3" x2="108.6" y2="300.3" stroke="#555" stroke-width="1.5"/>
<rect x="118.9" y="410" width="21.900000000000006" height="22.5" fill="#000"/>
<line x1="129.8" y1="404.6" x2="129.8" y2="415" stroke="#555" stroke-width="1.5"/>
<line x1="127.20000000000002" y1="404.6" x2="132.4" y2="404.6" stroke="#555" stroke-width="1.5"/>
<rect x="142.9" y="325.2" width="21.799999999999983" height="107.30000000000001" fill="#000"/>
<line x1="153.8" y1="314.5" x2="153.8" y2="336" stroke="#555" stroke-width="1.5"/>
<line x1="151.20000000000002" y1="314.5" x2="156.4" y2="314.5" stroke="#555" stroke-width="1.5"/>
<rect x="191.5" y="411.0" width="19.30000000000001" height="21.5" fill="#fff" stroke="#8a8a8a" stroke-width="2"/>
<line x1="201.1" y1="407.1" x2="201.1" y2="415.2" stroke="#444" stroke-width="1.5"/>
<line x1="198.5" y1="407.1" x2="203.7" y2="407.1" stroke="#444" stroke-width="1.5"/>
<rect x="213.9" y="289.2" width="22.099999999999994" height="143.3" fill="#929292"/>
<line x1="225.1" y1="270" x2="225.1" y2="311" stroke="#444" stroke-width="1.5"/>
<line x1="222.5" y1="270" x2="227.7" y2="270" stroke="#444" stroke-width="1.5"/>
<rect x="238.1" y="393.8" width="21.50000000000003" height="38.69999999999999" fill="#929292"/>
<line x1="248.9" y1="387.5" x2="248.9" y2="402.5" stroke="#444" stroke-width="1.5"/>
<line x1="246.3" y1="387.5" x2="251.5" y2="387.5" stroke="#444" stroke-width="1.5"/>
<rect x="262" y="300.7" width="21.899999999999977" height="131.8" fill="#929292"/>
<line x1="273.2" y1="281.1" x2="273.2" y2="322" stroke="#444" stroke-width="1.5"/>
<line x1="270.59999999999997" y1="281.1" x2="275.8" y2="281.1" stroke="#444" stroke-width="1.5"/>
<path d="M95.4 289.5 V285.5 H169.8 V289.5" fill="none" stroke="#333" stroke-width="1.6"/>
<text x="131.8" y="280.6" font-size="12.3" font-weight="bold" text-anchor="middle" fill="#000" textLength="64.5" lengthAdjust="spacingAndGlyphs" >VEGF-A165</text>
<path d="M121.5 309.5 V305 H167.7 V309.5" fill="none" stroke="#333" stroke-width="1.8"/>
<line x1="144.70" y1="292.40" x2="144.70" y2="301.20" stroke="#000" stroke-width="1.7" stroke-linecap="round"/>
<line x1="140.89" y1="294.60" x2="148.51" y2="299.00" stroke="#000" stroke-width="1.7" stroke-linecap="round"/>
<line x1="148.51" y1="294.60" x2="140.89" y2="299.00" stroke="#000" stroke-width="1.7" stroke-linecap="round"/>
<circle cx="144.7" cy="296.8" r="1.3" fill="#000"/>
<path d="M212.5 264.5 V260.5 H286.7 V264.5" fill="none" stroke="#333" stroke-width="1.6"/>
<text x="249.2" y="257.2" font-size="12.3" font-weight="bold" text-anchor="middle" fill="#000" textLength="64.5" lengthAdjust="spacingAndGlyphs" >VEGF-A121</text>
<path d="M239 282 V277 H286 V282" fill="none" stroke="#333" stroke-width="1.8"/>
<line x1="262.80" y1="266.40" x2="262.80" y2="275.20" stroke="#000" stroke-width="1.7" stroke-linecap="round"/>
<line x1="258.99" y1="268.60" x2="266.61" y2="273.00" stroke="#000" stroke-width="1.7" stroke-linecap="round"/>
<line x1="266.61" y1="268.60" x2="258.99" y2="273.00" stroke="#000" stroke-width="1.7" stroke-linecap="round"/>
<circle cx="262.8" cy="270.8" r="1.3" fill="#000"/>
<text transform="translate(31.5,341.5) rotate(-90)" font-size="11.8" font-weight="bold" text-anchor="middle" textLength="188" lengthAdjust="spacingAndGlyphs">total sprout length (10<tspan font-size="6" dy="-9"> 6</tspan><tspan dy="9"> pixel per</tspan></text>
<text transform="translate(45.6,342.2) rotate(-90)" font-size="12.2" font-weight="bold" text-anchor="middle" textLength="54.5" lengthAdjust="spacingAndGlyphs">spheroid)</text>
<text transform="translate(82.74444444444444,444.7) rotate(-30)" font-size="14" font-weight="normal" text-anchor="end">control</text>
<text transform="translate(107.83333333333334,444.7) rotate(-30)" font-size="14" font-weight="normal" text-anchor="end">untreated</text>
<text transform="translate(132.02222222222224,444.7) rotate(-30)" font-size="14" font-weight="normal" text-anchor="end">v6 pep</text>
<text transform="translate(159.41111111111113,444.7) rotate(-30)" font-size="14" font-weight="normal" text-anchor="end">ctrl pep</text>
<text transform="translate(202.1888888888889,444.7) rotate(-30)" font-size="14" font-weight="normal" text-anchor="end">control</text>
<text transform="translate(227.27777777777777,444.7) rotate(-30)" font-size="14" font-weight="normal" text-anchor="end">untreated</text>
<text transform="translate(251.46666666666667,444.7) rotate(-30)" font-size="14" font-weight="normal" text-anchor="end">v6 pep</text>
<text transform="translate(278.85555555555555,444.7) rotate(-30)" font-size="14" font-weight="normal" text-anchor="end">ctrl pep</text>
<text x="1.2" y="520" font-size="24.2" font-weight="bold" text-anchor="start" fill="#000" textLength="19.2" lengthAdjust="spacingAndGlyphs" >B</text>
<text x="48.75" y="512" font-size="13.3" font-weight="bold" text-anchor="start" fill="#000" textLength="103.25" lengthAdjust="spacingAndGlyphs" >no VEGF-A165</text>
<line x1="157" y1="506.8" x2="260" y2="506.8" stroke="#111" stroke-width="1.3"/>
<text x="262.7" y="512" font-size="13.3" font-weight="bold" text-anchor="start" fill="#000" textLength="74" lengthAdjust="spacingAndGlyphs" >VEGF-A165</text>
<line x1="341" y1="506.8" x2="454" y2="506.8" stroke="#111" stroke-width="1.3"/>
<text x="281.7" y="528.3" font-size="13.3" font-weight="bold" text-anchor="start" fill="#000" textLength="44.3" lengthAdjust="spacingAndGlyphs" >v6 pep</text>
<text x="376.8" y="528.3" font-size="13.3" font-weight="bold" text-anchor="start" fill="#000" textLength="54.4" lengthAdjust="spacingAndGlyphs" >ctrl pep</text>
<rect x="54.32" y="532.32" width="93.17" height="61.00" fill="url(#vig2)"/>
<rect x="54.32" y="532.32" width="93.17" height="61.00" fill="#000" filter="url(#noise)" opacity="0.07"/>
<g transform="translate(50,528) scale(0.19616)" fill="none" stroke-linejoin="round" stroke-linecap="round">
<polyline points="22,50 60,40 75,30 180,30 270,35 300,50 350,60 420,50 497,45" stroke="#777" stroke-width="13" opacity="0.2"/>
<polyline points="40,155 100,165 180,175 250,185 300,210 340,250 370,280 390,333" stroke="#777" stroke-width="13" opacity="0.2"/>
<polyline points="300,50 320,100 350,130 380,180 410,185 497,190" stroke="#777" stroke-width="13" opacity="0.2"/>
<polyline points="100,165 130,210 160,260 165,333" stroke="#777" stroke-width="13" opacity="0.2"/>
<polyline points="250,185 230,220 210,250 170,270" stroke="#777" stroke-width="13" opacity="0.2"/>
<polyline points="300,210 280,260 270,333" stroke="#777" stroke-width="13" opacity="0.2"/>
<polyline points="340,250 400,240 440,220 497,230" stroke="#777" stroke-width="13" opacity="0.2"/>
<polyline points="410,185 430,260 460,333" stroke="#777" stroke-width="13" opacity="0.2"/>
<polyline points="270,115 265,150" stroke="#777" stroke-width="13" opacity="0.2"/>
<polyline points="22,75 60,40" stroke="#777" stroke-width="13" opacity="0.2"/>
<polyline points="130,210 190,205 250,185" stroke="#777" stroke-width="13" opacity="0.2"/>
<polyline points="22,250 80,240 130,210" stroke="#777" stroke-width="13" opacity="0.2"/>
<polyline points="210,250 230,290 270,300" stroke="#777" stroke-width="13" opacity="0.2"/>
<polyline points="380,180 360,210 340,250" stroke="#777" stroke-width="13" opacity="0.2"/>
<polyline points="440,220 450,190" stroke="#777" stroke-width="13" opacity="0.2"/>
<polyline points="350,60 355,100 345,120" stroke="#777" stroke-width="13" opacity="0.2"/>
<polyline points="22,50 60,40 75,30 180,30 270,35 300,50 350,60 420,50 497,45" stroke="#3a3a3a" stroke-width="4.8" opacity="0.7" stroke-dasharray="12 5"/>
<polyline points="40,155 100,165 180,175 250,185 300,210 340,250 370,280 390,333" stroke="#3a3a3a" stroke-width="4.8" opacity="0.7" stroke-dasharray="12 5"/>
<polyline points="300,50 320,100 350,130 380,180 410,185 497,190" stroke="#3a3a3a" stroke-width="4.8" opacity="0.7" stroke-dasharray="12 5"/>
<polyline points="100,165 130,210 160,260 165,333" stroke="#3a3a3a" stroke-width="4.8" opacity="0.7" stroke-dasharray="12 5"/>
<polyline points="250,185 230,220 210,250 170,270" stroke="#3a3a3a" stroke-width="4.8" opacity="0.7" stroke-dasharray="12 5"/>
<polyline points="300,210 280,260 270,333" stroke="#3a3a3a" stroke-width="4.8" opacity="0.7" stroke-dasharray="12 5"/>
<polyline points="340,250 400,240 440,220 497,230" stroke="#3a3a3a" stroke-width="4.8" opacity="0.7" stroke-dasharray="12 5"/>
<polyline points="410,185 430,260 460,333" stroke="#3a3a3a" stroke-width="4.8" opacity="0.7" stroke-dasharray="12 5"/>
<polyline points="270,115 265,150" stroke="#3a3a3a" stroke-width="4.8" opacity="0.7" stroke-dasharray="12 5"/>
<polyline points="22,75 60,40" stroke="#3a3a3a" stroke-width="4.8" opacity="0.7" stroke-dasharray="12 5"/>
<polyline points="130,210 190,205 250,185" stroke="#3a3a3a" stroke-width="4.8" opacity="0.7" stroke-dasharray="12 5"/>
<polyline points="22,250 80,240 130,210" stroke="#3a3a3a" stroke-width="4.8" opacity="0.7" stroke-dasharray="12 5"/>
<polyline points="210,250 230,290 270,300" stroke="#3a3a3a" stroke-width="4.8" opacity="0.7" stroke-dasharray="12 5"/>
<polyline points="380,180 360,210 340,250" stroke="#3a3a3a" stroke-width="4.8" opacity="0.7" stroke-dasharray="12 5"/>
<polyline points="440,220 450,190" stroke="#3a3a3a" stroke-width="4.8" opacity="0.7" stroke-dasharray="12 5"/>
<polyline points="350,60 355,100 345,120" stroke="#3a3a3a" stroke-width="4.8" opacity="0.7" stroke-dasharray="12 5"/>
<circle cx="60" cy="40" r="5" fill="#333" stroke="none" opacity="0.6"/>
<circle cx="75" cy="30" r="5" fill="#333" stroke="none" opacity="0.6"/>
<circle cx="180" cy="30" r="5" fill="#333" stroke="none" opacity="0.6"/>
<circle cx="270" cy="35" r="5" fill="#333" stroke="none" opacity="0.6"/>
<circle cx="300" cy="50" r="5" fill="#333" stroke="none" opacity="0.6"/>
<circle cx="350" cy="60" r="5" fill="#333" stroke="none" opacity="0.6"/>
<circle cx="420" cy="50" r="5" fill="#333" stroke="none" opacity="0.6"/>
<circle cx="40" cy="155" r="5" fill="#333" stroke="none" opacity="0.6"/>
<circle cx="100" cy="165" r="5" fill="#333" stroke="none" opacity="0.6"/>
<circle cx="180" cy="175" r="5" fill="#333" stroke="none" opacity="0.6"/>
<circle cx="250" cy="185" r="5" fill="#333" stroke="none" opacity="0.6"/>
<circle cx="300" cy="210" r="5" fill="#333" stroke="none" opacity="0.6"/>
<circle cx="340" cy="250" r="5" fill="#333" stroke="none" opacity="0.6"/>
<circle cx="370" cy="280" r="5" fill="#333" stroke="none" opacity="0.6"/>
<circle cx="300" cy="50" r="5" fill="#333" stroke="none" opacity="0.6"/>
<circle cx="320" cy="100" r="5" fill="#333" stroke="none" opacity="0.6"/>
<circle cx="350" cy="130" r="5" fill="#333" stroke="none" opacity="0.6"/>
<circle cx="380" cy="180" r="5" fill="#333" stroke="none" opacity="0.6"/>
<circle cx="410" cy="185" r="5" fill="#333" stroke="none" opacity="0.6"/>
<circle cx="100" cy="165" r="5" fill="#333" stroke="none" opacity="0.6"/>
<circle cx="130" cy="210" r="5" fill="#333" stroke="none" opacity="0.6"/>
<circle cx="160" cy="260" r="5" fill="#333" stroke="none" opacity="0.6"/>
<circle cx="250" cy="185" r="5" fill="#333" stroke="none" opacity="0.6"/>
<circle cx="230" cy="220" r="5" fill="#333" stroke="none" opacity="0.6"/>
<circle cx="210" cy="250" r="5" fill="#333" stroke="none" opacity="0.6"/>
<circle cx="170" cy="270" r="5" fill="#333" stroke="none" opacity="0.6"/>
<circle cx="300" cy="210" r="5" fill="#333" stroke="none" opacity="0.6"/>
<circle cx="280" cy="260" r="5" fill="#333" stroke="none" opacity="0.6"/>
<circle cx="340" cy="250" r="5" fill="#333" stroke="none" opacity="0.6"/>
<circle cx="400" cy="240" r="5" fill="#333" stroke="none" opacity="0.6"/>
<circle cx="440" cy="220" r="5" fill="#333" stroke="none" opacity="0.6"/>
<circle cx="410" cy="185" r="5" fill="#333" stroke="none" opacity="0.6"/>
<circle cx="430" cy="260" r="5" fill="#333" stroke="none" opacity="0.6"/>
<circle cx="270" cy="115" r="5" fill="#333" stroke="none" opacity="0.6"/>
<circle cx="265" cy="150" r="5" fill="#333" stroke="none" opacity="0.6"/>
<circle cx="60" cy="40" r="5" fill="#333" stroke="none" opacity="0.6"/>
<circle cx="130" cy="210" r="5" fill="#333" stroke="none" opacity="0.6"/>
<circle cx="190" cy="205" r="5" fill="#333" stroke="none" opacity="0.6"/>
<circle cx="250" cy="185" r="5" fill="#333" stroke="none" opacity="0.6"/>
<circle cx="80" cy="240" r="5" fill="#333" stroke="none" opacity="0.6"/>
<circle cx="130" cy="210" r="5" fill="#333" stroke="none" opacity="0.6"/>
<circle cx="210" cy="250" r="5" fill="#333" stroke="none" opacity="0.6"/>
<circle cx="230" cy="290" r="5" fill="#333" stroke="none" opacity="0.6"/>
<circle cx="270" cy="300" r="5" fill="#333" stroke="none" opacity="0.6"/>
<circle cx="380" cy="180" r="5" fill="#333" stroke="none" opacity="0.6"/>
<circle cx="360" cy="210" r="5" fill="#333" stroke="none" opacity="0.6"/>
<circle cx="340" cy="250" r="5" fill="#333" stroke="none" opacity="0.6"/>
<circle cx="440" cy="220" r="5" fill="#333" stroke="none" opacity="0.6"/>
<circle cx="450" cy="190" r="5" fill="#333" stroke="none" opacity="0.6"/>
<circle cx="350" cy="60" r="5" fill="#333" stroke="none" opacity="0.6"/>
<circle cx="355" cy="100" r="5" fill="#333" stroke="none" opacity="0.6"/>
<circle cx="345" cy="120" r="5" fill="#333" stroke="none" opacity="0.6"/>
</g>
<rect x="54.82" y="532.82" width="92.17" height="60.00" fill="none" stroke="#333" stroke-width="1.1"/>
<rect x="156.32" y="532.32" width="93.17" height="61.00" fill="url(#vig2)"/>
<rect x="156.32" y="532.32" width="93.17" height="61.00" fill="#000" filter="url(#noise)" opacity="0.07"/>
<g transform="translate(152,528) scale(0.19616)" fill="none" stroke-linejoin="round" stroke-linecap="round">
<polyline points="22.0,152.0 58.8,159.2 95.6,152.0" stroke="#777" stroke-width="13" opacity="0.2"/>
<polyline points="114.0,22.0 111.1,75.6 114.0,129.2" stroke="#777" stroke-width="13" opacity="0.2"/>
<polyline points="95.6,152.0 105.2,140.9 114.0,129.2" stroke="#777" stroke-width="13" opacity="0.2"/>
<polyline points="210.8,141.5 163.1,130.0 114.0,129.2" stroke="#777" stroke-width="13" opacity="0.2"/>
<polyline points="95.6,152.0 108.6,180.5 113.4,211.5" stroke="#777" stroke-width="13" opacity="0.2"/>
<polyline points="210.8,141.5 215.4,148.1 217.8,155.7" stroke="#777" stroke-width="13" opacity="0.2"/>
<polyline points="217.8,155.7 205.9,182.3 205.7,211.5" stroke="#777" stroke-width="13" opacity="0.2"/>
<polyline points="205.7,211.5 159.6,202.0 113.4,211.5" stroke="#777" stroke-width="13" opacity="0.2"/>
<polyline points="22.0,249.0 61.9,247.6 101.9,249.0" stroke="#777" stroke-width="13" opacity="0.2"/>
<polyline points="113.4,211.5 109.3,230.8 101.9,249.0" stroke="#777" stroke-width="13" opacity="0.2"/>
<polyline points="95.8,333.0 101.3,300.5 109.8,268.6" stroke="#777" stroke-width="13" opacity="0.2"/>
<polyline points="109.8,268.6 104.3,259.4 101.9,249.0" stroke="#777" stroke-width="13" opacity="0.2"/>
<polyline points="324.0,81.5 322.4,51.8 324.0,22.0" stroke="#777" stroke-width="13" opacity="0.2"/>
<polyline points="324.0,81.5 321.0,88.1 315.5,92.8" stroke="#777" stroke-width="13" opacity="0.2"/>
<polyline points="315.5,92.8 271.7,96.8 230.9,80.5" stroke="#777" stroke-width="13" opacity="0.2"/>
<polyline points="230.9,80.5 225.5,48.6 207.0,22.0" stroke="#777" stroke-width="13" opacity="0.2"/>
<polyline points="323.0,159.2 311.8,126.8 315.5,92.8" stroke="#777" stroke-width="13" opacity="0.2"/>
<polyline points="316.4,170.1 320.3,165.0 323.0,159.2" stroke="#777" stroke-width="13" opacity="0.2"/>
<polyline points="316.4,170.1 268.6,153.0 217.8,155.7" stroke="#777" stroke-width="13" opacity="0.2"/>
<polyline points="210.8,141.5 223.0,111.7 230.9,80.5" stroke="#777" stroke-width="13" opacity="0.2"/>
<polyline points="316.4,170.1 315.3,194.1 320.4,217.5" stroke="#777" stroke-width="13" opacity="0.2"/>
<polyline points="320.4,217.5 313.3,229.4 302.5,238.0" stroke="#777" stroke-width="13" opacity="0.2"/>
<polyline points="205.7,211.5 214.3,223.6 217.8,238.0" stroke="#777" stroke-width="13" opacity="0.2"/>
<polyline points="302.5,238.0 260.1,240.5 217.8,238.0" stroke="#777" stroke-width="13" opacity="0.2"/>
<polyline points="109.8,268.6 155.3,282.4 202.9,283.2" stroke="#777" stroke-width="13" opacity="0.2"/>
<polyline points="202.9,283.2 208.7,260.1 217.8,238.0" stroke="#777" stroke-width="13" opacity="0.2"/>
<polyline points="202.9,283.2 210.2,308.1 217.8,333.0" stroke="#777" stroke-width="13" opacity="0.2"/>
<polyline points="302.5,238.0 303.0,257.4 302.5,276.8" stroke="#777" stroke-width="13" opacity="0.2"/>
<polyline points="302.5,276.8 277.9,303.1 257.7,333.0" stroke="#777" stroke-width="13" opacity="0.2"/>
<polyline points="416.7,217.7 439.4,252.2 473.9,274.9" stroke="#777" stroke-width="13" opacity="0.2"/>
<polyline points="416.7,217.7 400.3,232.9 378.9,239.3" stroke="#777" stroke-width="13" opacity="0.2"/>
<polyline points="378.9,239.3 380.2,274.9 389.2,309.4" stroke="#777" stroke-width="13" opacity="0.2"/>
<polyline points="473.9,274.9 429.1,286.2 389.2,309.4" stroke="#777" stroke-width="13" opacity="0.2"/>
<polyline points="429.2,184.0 463.1,190.4 497.0,184.0" stroke="#777" stroke-width="13" opacity="0.2"/>
<polyline points="473.9,274.9 485.9,275.6 497.0,279.9" stroke="#777" stroke-width="13" opacity="0.2"/>
<polyline points="416.7,217.7 420.2,199.8 429.2,184.0" stroke="#777" stroke-width="13" opacity="0.2"/>
<polyline points="320.4,217.5 349.4,229.0 378.9,239.3" stroke="#777" stroke-width="13" opacity="0.2"/>
<polyline points="323.0,159.2 366.8,154.6 410.0,146.6" stroke="#777" stroke-width="13" opacity="0.2"/>
<polyline points="429.2,184.0 420.0,165.1 410.0,146.6" stroke="#777" stroke-width="13" opacity="0.2"/>
<polyline points="302.5,276.8 340.8,302.7 375.8,333.0" stroke="#777" stroke-width="13" opacity="0.2"/>
<polyline points="389.2,309.4 383.5,321.0 378.8,333.0" stroke="#777" stroke-width="13" opacity="0.2"/>
<polyline points="410.6,81.5 413.9,96.2 422.6,108.5" stroke="#777" stroke-width="13" opacity="0.2"/>
<polyline points="410.6,81.5 419.6,52.3 424.1,22.0" stroke="#777" stroke-width="13" opacity="0.2"/>
<polyline points="422.6,108.5 459.8,114.8 497.0,108.5" stroke="#777" stroke-width="13" opacity="0.2"/>
<polyline points="324.0,81.5 367.3,75.2 410.6,81.5" stroke="#777" stroke-width="13" opacity="0.2"/>
<polyline points="410.0,146.6 417.8,128.0 422.6,108.5" stroke="#777" stroke-width="13" opacity="0.2"/>
<polyline points="22.0,152.0 58.8,159.2 95.6,152.0" stroke="#3a3a3a" stroke-width="4.8" opacity="0.7" stroke-dasharray="12 5"/>
<polyline points="114.0,22.0 111.1,75.6 114.0,129.2" stroke="#3a3a3a" stroke-width="4.8" opacity="0.7" stroke-dasharray="12 5"/>
<polyline points="95.6,152.0 105.2,140.9 114.0,129.2" stroke="#3a3a3a" stroke-width="4.8" opacity="0.7" stroke-dasharray="12 5"/>
<polyline points="210.8,141.5 163.1,130.0 114.0,129.2" stroke="#3a3a3a" stroke-width="4.8" opacity="0.7" stroke-dasharray="12 5"/>
<polyline points="95.6,152.0 108.6,180.5 113.4,211.5" stroke="#3a3a3a" stroke-width="4.8" opacity="0.7" stroke-dasharray="12 5"/>
<polyline points="210.8,141.5 215.4,148.1 217.8,155.7" stroke="#3a3a3a" stroke-width="4.8" opacity="0.7" stroke-dasharray="12 5"/>
<polyline points="217.8,155.7 205.9,182.3 205.7,211.5" stroke="#3a3a3a" stroke-width="4.8" opacity="0.7" stroke-dasharray="12 5"/>
<polyline points="205.7,211.5 159.6,202.0 113.4,211.5" stroke="#3a3a3a" stroke-width="4.8" opacity="0.7" stroke-dasharray="12 5"/>
<polyline points="22.0,249.0 61.9,247.6 101.9,249.0" stroke="#3a3a3a" stroke-width="4.8" opacity="0.7" stroke-dasharray="12 5"/>
<polyline points="113.4,211.5 109.3,230.8 101.9,249.0" stroke="#3a3a3a" stroke-width="4.8" opacity="0.7" stroke-dasharray="12 5"/>
<polyline points="95.8,333.0 101.3,300.5 109.8,268.6" stroke="#3a3a3a" stroke-width="4.8" opacity="0.7" stroke-dasharray="12 5"/>
<polyline points="109.8,268.6 104.3,259.4 101.9,249.0" stroke="#3a3a3a" stroke-width="4.8" opacity="0.7" stroke-dasharray="12 5"/>
<polyline points="324.0,81.5 322.4,51.8 324.0,22.0" stroke="#3a3a3a" stroke-width="4.8" opacity="0.7" stroke-dasharray="12 5"/>
<polyline points="324.0,81.5 321.0,88.1 315.5,92.8" stroke="#3a3a3a" stroke-width="4.8" opacity="0.7" stroke-dasharray="12 5"/>
<polyline points="315.5,92.8 271.7,96.8 230.9,80.5" stroke="#3a3a3a" stroke-width="4.8" opacity="0.7" stroke-dasharray="12 5"/>
<polyline points="230.9,80.5 225.5,48.6 207.0,22.0" stroke="#3a3a3a" stroke-width="4.8" opacity="0.7" stroke-dasharray="12 5"/>
<polyline points="323.0,159.2 311.8,126.8 315.5,92.8" stroke="#3a3a3a" stroke-width="4.8" opacity="0.7" stroke-dasharray="12 5"/>
<polyline points="316.4,170.1 320.3,165.0 323.0,159.2" stroke="#3a3a3a" stroke-width="4.8" opacity="0.7" stroke-dasharray="12 5"/>
<polyline points="316.4,170.1 268.6,153.0 217.8,155.7" stroke="#3a3a3a" stroke-width="4.8" opacity="0.7" stroke-dasharray="12 5"/>
<polyline points="210.8,141.5 223.0,111.7 230.9,80.5" stroke="#3a3a3a" stroke-width="4.8" opacity="0.7" stroke-dasharray="12 5"/>
<polyline points="316.4,170.1 315.3,194.1 320.4,217.5" stroke="#3a3a3a" stroke-width="4.8" opacity="0.7" stroke-dasharray="12 5"/>
<polyline points="320.4,217.5 313.3,229.4 302.5,238.0" stroke="#3a3a3a" stroke-width="4.8" opacity="0.7" stroke-dasharray="12 5"/>
<polyline points="205.7,211.5 214.3,223.6 217.8,238.0" stroke="#3a3a3a" stroke-width="4.8" opacity="0.7" stroke-dasharray="12 5"/>
<polyline points="302.5,238.0 260.1,240.5 217.8,238.0" stroke="#3a3a3a" stroke-width="4.8" opacity="0.7" stroke-dasharray="12 5"/>
<polyline points="109.8,268.6 155.3,282.4 202.9,283.2" stroke="#3a3a3a" stroke-width="4.8" opacity="0.7" stroke-dasharray="12 5"/>
<polyline points="202.9,283.2 208.7,260.1 217.8,238.0" stroke="#3a3a3a" stroke-width="4.8" opacity="0.7" stroke-dasharray="12 5"/>
<polyline points="202.9,283.2 210.2,308.1 217.8,333.0" stroke="#3a3a3a" stroke-width="4.8" opacity="0.7" stroke-dasharray="12 5"/>
<polyline points="302.5,238.0 303.0,257.4 302.5,276.8" stroke="#3a3a3a" stroke-width="4.8" opacity="0.7" stroke-dasharray="12 5"/>
<polyline points="302.5,276.8 277.9,303.1 257.7,333.0" stroke="#3a3a3a" stroke-width="4.8" opacity="0.7" stroke-dasharray="12 5"/>
<polyline points="416.7,217.7 439.4,252.2 473.9,274.9" stroke="#3a3a3a" stroke-width="4.8" opacity="0.7" stroke-dasharray="12 5"/>
<polyline points="416.7,217.7 400.3,232.9 378.9,239.3" stroke="#3a3a3a" stroke-width="4.8" opacity="0.7" stroke-dasharray="12 5"/>
<polyline points="378.9,239.3 380.2,274.9 389.2,309.4" stroke="#3a3a3a" stroke-width="4.8" opacity="0.7" stroke-dasharray="12 5"/>
<polyline points="473.9,274.9 429.1,286.2 389.2,309.4" stroke="#3a3a3a" stroke-width="4.8" opacity="0.7" stroke-dasharray="12 5"/>
<polyline points="429.2,184.0 463.1,190.4 497.0,184.0" stroke="#3a3a3a" stroke-width="4.8" opacity="0.7" stroke-dasharray="12 5"/>
<polyline points="473.9,274.9 485.9,275.6 497.0,279.9" stroke="#3a3a3a" stroke-width="4.8" opacity="0.7" stroke-dasharray="12 5"/>
<polyline points="416.7,217.7 420.2,199.8 429.2,184.0" stroke="#3a3a3a" stroke-width="4.8" opacity="0.7" stroke-dasharray="12 5"/>
<polyline points="320.4,217.5 349.4,229.0 378.9,239.3" stroke="#3a3a3a" stroke-width="4.8" opacity="0.7" stroke-dasharray="12 5"/>
<polyline points="323.0,159.2 366.8,154.6 410.0,146.6" stroke="#3a3a3a" stroke-width="4.8" opacity="0.7" stroke-dasharray="12 5"/>
<polyline points="429.2,184.0 420.0,165.1 410.0,146.6" stroke="#3a3a3a" stroke-width="4.8" opacity="0.7" stroke-dasharray="12 5"/>
<polyline points="302.5,276.8 340.8,302.7 375.8,333.0" stroke="#3a3a3a" stroke-width="4.8" opacity="0.7" stroke-dasharray="12 5"/>
<polyline points="389.2,309.4 383.5,321.0 378.8,333.0" stroke="#3a3a3a" stroke-width="4.8" opacity="0.7" stroke-dasharray="12 5"/>
<polyline points="410.6,81.5 413.9,96.2 422.6,108.5" stroke="#3a3a3a" stroke-width="4.8" opacity="0.7" stroke-dasharray="12 5"/>
<polyline points="410.6,81.5 419.6,52.3 424.1,22.0" stroke="#3a3a3a" stroke-width="4.8" opacity="0.7" stroke-dasharray="12 5"/>
<polyline points="422.6,108.5 459.8,114.8 497.0,108.5" stroke="#3a3a3a" stroke-width="4.8" opacity="0.7" stroke-dasharray="12 5"/>
<polyline points="324.0,81.5 367.3,75.2 410.6,81.5" stroke="#3a3a3a" stroke-width="4.8" opacity="0.7" stroke-dasharray="12 5"/>
<polyline points="410.0,146.6 417.8,128.0 422.6,108.5" stroke="#3a3a3a" stroke-width="4.8" opacity="0.7" stroke-dasharray="12 5"/>
<circle cx="58.8" cy="159.2" r="5" fill="#333" stroke="none" opacity="0.6"/>
<circle cx="95.6" cy="152.0" r="5" fill="#333" stroke="none" opacity="0.6"/>
<circle cx="111.1" cy="75.6" r="5" fill="#333" stroke="none" opacity="0.6"/>
<circle cx="114.0" cy="129.2" r="5" fill="#333" stroke="none" opacity="0.6"/>
<circle cx="95.6" cy="152.0" r="5" fill="#333" stroke="none" opacity="0.6"/>
<circle cx="105.2" cy="140.9" r="5" fill="#333" stroke="none" opacity="0.6"/>
<circle cx="114.0" cy="129.2" r="5" fill="#333" stroke="none" opacity="0.6"/>
<circle cx="210.8" cy="141.5" r="5" fill="#333" stroke="none" opacity="0.6"/>
<circle cx="163.1" cy="130.0" r="5" fill="#333" stroke="none" opacity="0.6"/>
<circle cx="114.0" cy="129.2" r="5" fill="#333" stroke="none" opacity="0.6"/>
<circle cx="95.6" cy="152.0" r="5" fill="#333" stroke="none" opacity="0.6"/>
<circle cx="108.6" cy="180.5" r="5" fill="#333" stroke="none" opacity="0.6"/>
<circle cx="113.4" cy="211.5" r="5" fill="#333" stroke="none" opacity="0.6"/>
<circle cx="210.8" cy="141.5" r="5" fill="#333" stroke="none" opacity="0.6"/>
<circle cx="215.4" cy="148.1" r="5" fill="#333" stroke="none" opacity="0.6"/>
<circle cx="217.8" cy="155.7" r="5" fill="#333" stroke="none" opacity="0.6"/>
<circle cx="217.8" cy="155.7" r="5" fill="#333" stroke="none" opacity="0.6"/>
<circle cx="205.9" cy="182.3" r="5" fill="#333" stroke="none" opacity="0.6"/>
<circle cx="205.7" cy="211.5" r="5" fill="#333" stroke="none" opacity="0.6"/>
<circle cx="205.7" cy="211.5" r="5" fill="#333" stroke="none" opacity="0.6"/>
<circle cx="159.6" cy="202.0" r="5" fill="#333" stroke="none" opacity="0.6"/>
<circle cx="113.4" cy="211.5" r="5" fill="#333" stroke="none" opacity="0.6"/>
<circle cx="61.9" cy="247.6" r="5" fill="#333" stroke="none" opacity="0.6"/>
<circle cx="101.9" cy="249.0" r="5" fill="#333" stroke="none" opacity="0.6"/>
<circle cx="113.4" cy="211.5" r="5" fill="#333" stroke="none" opacity="0.6"/>
<circle cx="109.3" cy="230.8" r="5" fill="#333" stroke="none" opacity="0.6"/>
<circle cx="101.9" cy="249.0" r="5" fill="#333" stroke="none" opacity="0.6"/>
<circle cx="101.3" cy="300.5" r="5" fill="#333" stroke="none" opacity="0.6"/>
<circle cx="109.8" cy="268.6" r="5" fill="#333" stroke="none" opacity="0.6"/>
<circle cx="109.8" cy="268.6" r="5" fill="#333" stroke="none" opacity="0.6"/>
<circle cx="104.3" cy="259.4" r="5" fill="#333" stroke="none" opacity="0.6"/>
<circle cx="101.9" cy="249.0" r="5" fill="#333" stroke="none" opacity="0.6"/>
<circle cx="324.0" cy="81.5" r="5" fill="#333" stroke="none" opacity="0.6"/>
<circle cx="322.4" cy="51.8" r="5" fill="#333" stroke="none" opacity="0.6"/>
<circle cx="324.0" cy="81.5" r="5" fill="#333" stroke="none" opacity="0.6"/>
<circle cx="321.0" cy="88.1" r="5" fill="#333" stroke="none" opacity="0.6"/>
<circle cx="315.5" cy="92.8" r="5" fill="#333" stroke="none" opacity="0.6"/>
<circle cx="315.5" cy="92.8" r="5" fill="#333" stroke="none" opacity="0.6"/>
<circle cx="271.7" cy="96.8" r="5" fill="#333" stroke="none" opacity="0.6"/>
<circle cx="230.9" cy="80.5" r="5" fill="#333" stroke="none" opacity="0.6"/>
<circle cx="230.9" cy="80.5" r="5" fill="#333" stroke="none" opacity="0.6"/>
<circle cx="225.5" cy="48.6" r="5" fill="#333" stroke="none" opacity="0.6"/>
<circle cx="323.0" cy="159.2" r="5" fill="#333" stroke="none" opacity="0.6"/>
<circle cx="311.8" cy="126.8" r="5" fill="#333" stroke="none" opacity="0.6"/>
<circle cx="315.5" cy="92.8" r="5" fill="#333" stroke="none" opacity="0.6"/>
<circle cx="316.4" cy="170.1" r="5" fill="#333" stroke="none" opacity="0.6"/>
<circle cx="320.3" cy="165.0" r="5" fill="#333" stroke="none" opacity="0.6"/>
<circle cx="323.0" cy="159.2" r="5" fill="#333" stroke="none" opacity="0.6"/>
<circle cx="316.4" cy="170.1" r="5" fill="#333" stroke="none" opacity="0.6"/>
<circle cx="268.6" cy="153.0" r="5" fill="#333" stroke="none" opacity="0.6"/>
<circle cx="217.8" cy="155.7" r="5" fill="#333" stroke="none" opacity="0.6"/>
<circle cx="210.8" cy="141.5" r="5" fill="#333" stroke="none" opacity="0.6"/>
<circle cx="223.0" cy="111.7" r="5" fill="#333" stroke="none" opacity="0.6"/>
<circle cx="230.9" cy="80.5" r="5" fill="#333" stroke="none" opacity="0.6"/>
<circle cx="316.4" cy="170.1" r="5" fill="#333" stroke="none" opacity="0.6"/>
<circle cx="315.3" cy="194.1" r="5" fill="#333" stroke="none" opacity="0.6"/>
<circle cx="320.4" cy="217.5" r="5" fill="#333" stroke="none" opacity="0.6"/>
<circle cx="320.4" cy="217.5" r="5" fill="#333" stroke="none" opacity="0.6"/>
<circle cx="313.3" cy="229.4" r="5" fill="#333" stroke="none" opacity="0.6"/>
<circle cx="302.5" cy="238.0" r="5" fill="#333" stroke="none" opacity="0.6"/>
<circle cx="205.7" cy="211.5" r="5" fill="#333" stroke="none" opacity="0.6"/>
<circle cx="214.3" cy="223.6" r="5" fill="#333" stroke="none" opacity="0.6"/>
<circle cx="217.8" cy="238.0" r="5" fill="#333" stroke="none" opacity="0.6"/>
<circle cx="302.5" cy="238.0" r="5" fill="#333" stroke="none" opacity="0.6"/>
<circle cx="260.1" cy="240.5" r="5" fill="#333" stroke="none" opacity="0.6"/>
<circle cx="217.8" cy="238.0" r="5" fill="#333" stroke="none" opacity="0.6"/>
<circle cx="109.8" cy="268.6" r="5" fill="#333" stroke="none" opacity="0.6"/>
<circle cx="155.3" cy="282.4" r="5" fill="#333" stroke="none" opacity="0.6"/>
<circle cx="202.9" cy="283.2" r="5" fill="#333" stroke="none" opacity="0.6"/>
<circle cx="202.9" cy="283.2" r="5" fill="#333" stroke="none" opacity="0.6"/>
<circle cx="208.7" cy="260.1" r="5" fill="#333" stroke="none" opacity="0.6"/>
<circle cx="217.8" cy="238.0" r="5" fill="#333" stroke="none" opacity="0.6"/>
<circle cx="202.9" cy="283.2" r="5" fill="#333" stroke="none" opacity="0.6"/>
<circle cx="210.2" cy="308.1" r="5" fill="#333" stroke="none" opacity="0.6"/>
<circle cx="302.5" cy="238.0" r="5" fill="#333" stroke="none" opacity="0.6"/>
<circle cx="303.0" cy="257.4" r="5" fill="#333" stroke="none" opacity="0.6"/>
<circle cx="302.5" cy="276.8" r="5" fill="#333" stroke="none" opacity="0.6"/>
<circle cx="302.5" cy="276.8" r="5" fill="#333" stroke="none" opacity="0.6"/>
<circle cx="277.9" cy="303.1" r="5" fill="#333" stroke="none" opacity="0.6"/>
<circle cx="416.7" cy="217.7" r="5" fill="#333" stroke="none" opacity="0.6"/>
<circle cx="439.4" cy="252.2" r="5" fill="#333" stroke="none" opacity="0.6"/>
<circle cx="473.9" cy="274.9" r="5" fill="#333" stroke="none" opacity="0.6"/>
<circle cx="416.7" cy="217.7" r="5" fill="#333" stroke="none" opacity="0.6"/>
<circle cx="400.3" cy="232.9" r="5" fill="#333" stroke="none" opacity="0.6"/>
<circle cx="378.9" cy="239.3" r="5" fill="#333" stroke="none" opacity="0.6"/>
<circle cx="378.9" cy="239.3" r="5" fill="#333" stroke="none" opacity="0.6"/>
<circle cx="380.2" cy="274.9" r="5" fill="#333" stroke="none" opacity="0.6"/>
<circle cx="389.2" cy="309.4" r="5" fill="#333" stroke="none" opacity="0.6"/>
<circle cx="473.9" cy="274.9" r="5" fill="#333" stroke="none" opacity="0.6"/>
<circle cx="429.1" cy="286.2" r="5" fill="#333" stroke="none" opacity="0.6"/>
<circle cx="389.2" cy="309.4" r="5" fill="#333" stroke="none" opacity="0.6"/>
<circle cx="429.2" cy="184.0" r="5" fill="#333" stroke="none" opacity="0.6"/>
<circle cx="463.1" cy="190.4" r="5" fill="#333" stroke="none" opacity="0.6"/>
<circle cx="473.9" cy="274.9" r="5" fill="#333" stroke="none" opacity="0.6"/>
<circle cx="485.9" cy="275.6" r="5" fill="#333" stroke="none" opacity="0.6"/>
<circle cx="416.7" cy="217.7" r="5" fill="#333" stroke="none" opacity="0.6"/>
<circle cx="420.2" cy="199.8" r="5" fill="#333" stroke="none" opacity="0.6"/>
<circle cx="429.2" cy="184.0" r="5" fill="#333" stroke="none" opacity="0.6"/>
<circle cx="320.4" cy="217.5" r="5" fill="#333" stroke="none" opacity="0.6"/>
<circle cx="349.4" cy="229.0" r="5" fill="#333" stroke="none" opacity="0.6"/>
<circle cx="378.9" cy="239.3" r="5" fill="#333" stroke="none" opacity="0.6"/>
<circle cx="323.0" cy="159.2" r="5" fill="#333" stroke="none" opacity="0.6"/>
<circle cx="366.8" cy="154.6" r="5" fill="#333" stroke="none" opacity="0.6"/>
<circle cx="410.0" cy="146.6" r="5" fill="#333" stroke="none" opacity="0.6"/>
<circle cx="429.2" cy="184.0" r="5" fill="#333" stroke="none" opacity="0.6"/>
<circle cx="420.0" cy="165.1" r="5" fill="#333" stroke="none" opacity="0.6"/>
<circle cx="410.0" cy="146.6" r="5" fill="#333" stroke="none" opacity="0.6"/>
<circle cx="302.5" cy="276.8" r="5" fill="#333" stroke="none" opacity="0.6"/>
<circle cx="340.8" cy="302.7" r="5" fill="#333" stroke="none" opacity="0.6"/>
<circle cx="389.2" cy="309.4" r="5" fill="#333" stroke="none" opacity="0.6"/>
<circle cx="383.5" cy="321.0" r="5" fill="#333" stroke="none" opacity="0.6"/>
<circle cx="410.6" cy="81.5" r="5" fill="#333" stroke="none" opacity="0.6"/>
<circle cx="413.9" cy="96.2" r="5" fill="#333" stroke="none" opacity="0.6"/>
<circle cx="422.6" cy="108.5" r="5" fill="#333" stroke="none" opacity="0.6"/>
<circle cx="410.6" cy="81.5" r="5" fill="#333" stroke="none" opacity="0.6"/>
<circle cx="419.6" cy="52.3" r="5" fill="#333" stroke="none" opacity="0.6"/>
<circle cx="422.6" cy="108.5" r="5" fill="#333" stroke="none" opacity="0.6"/>
<circle cx="459.8" cy="114.8" r="5" fill="#333" stroke="none" opacity="0.6"/>
<circle cx="324.0" cy="81.5" r="5" fill="#333" stroke="none" opacity="0.6"/>
<circle cx="367.3" cy="75.2" r="5" fill="#333" stroke="none" opacity="0.6"/>
<circle cx="410.6" cy="81.5" r="5" fill="#333" stroke="none" opacity="0.6"/>
<circle cx="410.0" cy="146.6" r="5" fill="#333" stroke="none" opacity="0.6"/>
<circle cx="417.8" cy="128.0" r="5" fill="#333" stroke="none" opacity="0.6"/>
<circle cx="422.6" cy="108.5" r="5" fill="#333" stroke="none" opacity="0.6"/>
</g>
<rect x="156.82" y="532.82" width="92.17" height="60.00" fill="none" stroke="#333" stroke-width="1.1"/>
<rect x="258.32" y="532.32" width="93.17" height="61.00" fill="url(#vig2)"/>
<rect x="258.32" y="532.32" width="93.17" height="61.00" fill="#000" filter="url(#noise)" opacity="0.07"/>
<g transform="translate(254,528) scale(0.19616)" fill="none" stroke-linejoin="round" stroke-linecap="round">
<polyline points="60,55 120,90 160,110 190,150" stroke="#777" stroke-width="13" opacity="0.2"/>
<polyline points="215,25 230,50 260,70 280,60" stroke="#777" stroke-width="13" opacity="0.2"/>
<polyline points="350,40 380,60 420,80 497,95" stroke="#777" stroke-width="13" opacity="0.2"/>
<polyline points="380,60 400,25" stroke="#777" stroke-width="13" opacity="0.2"/>
<polyline points="22,185 60,200 100,225 150,255 175,270 185,300 160,333" stroke="#777" stroke-width="13" opacity="0.2"/>
<polyline points="175,270 240,240 270,220 300,215 350,230 360,270 380,300" stroke="#777" stroke-width="13" opacity="0.2"/>
<polyline points="350,230 420,210 440,200 470,180 497,165" stroke="#777" stroke-width="13" opacity="0.2"/>
<polyline points="420,140 410,160 440,200" stroke="#777" stroke-width="13" opacity="0.2"/>
<polyline points="420,140 497,130" stroke="#777" stroke-width="13" opacity="0.2"/>
<polyline points="260,240 240,290 245,333" stroke="#777" stroke-width="13" opacity="0.2"/>
<polyline points="22,270 40,300 50,333" stroke="#777" stroke-width="13" opacity="0.2"/>
<polyline points="60,55 120,90 160,110 190,150" stroke="#3a3a3a" stroke-width="4.8" opacity="0.7" stroke-dasharray="12 5"/>
<polyline points="215,25 230,50 260,70 280,60" stroke="#3a3a3a" stroke-width="4.8" opacity="0.7" stroke-dasharray="12 5"/>
<polyline points="350,40 380,60 420,80 497,95" stroke="#3a3a3a" stroke-width="4.8" opacity="0.7" stroke-dasharray="12 5"/>
<polyline points="380,60 400,25" stroke="#3a3a3a" stroke-width="4.8" opacity="0.7" stroke-dasharray="12 5"/>
<polyline points="22,185 60,200 100,225 150,255 175,270 185,300 160,333" stroke="#3a3a3a" stroke-width="4.8" opacity="0.7" stroke-dasharray="12 5"/>
<polyline points="175,270 240,240 270,220 300,215 350,230 360,270 380,300" stroke="#3a3a3a" stroke-width="4.8" opacity="0.7" stroke-dasharray="12 5"/>
<polyline points="350,230 420,210 440,200 470,180 497,165" stroke="#3a3a3a" stroke-width="4.8" opacity="0.7" stroke-dasharray="12 5"/>
<polyline points="420,140 410,160 440,200" stroke="#3a3a3a" stroke-width="4.8" opacity="0.7" stroke-dasharray="12 5"/>
<polyline points="420,140 497,130" stroke="#3a3a3a" stroke-width="4.8" opacity="0.7" stroke-dasharray="12 5"/>
<polyline points="260,240 240,290 245,333" stroke="#3a3a3a" stroke-width="4.8" opacity="0.7" stroke-dasharray="12 5"/>
<polyline points="22,270 40,300 50,333" stroke="#3a3a3a" stroke-width="4.8" opacity="0.7" stroke-dasharray="12 5"/>
<circle cx="60" cy="55" r="5" fill="#333" stroke="none" opacity="0.6"/>
<circle cx="120" cy="90" r="5" fill="#333" stroke="none" opacity="0.6"/>
<circle cx="160" cy="110" r="5" fill="#333" stroke="none" opacity="0.6"/>
<circle cx="190" cy="150" r="5" fill="#333" stroke="none" opacity="0.6"/>
<circle cx="215" cy="25" r="5" fill="#333" stroke="none" opacity="0.6"/>
<circle cx="230" cy="50" r="5" fill="#333" stroke="none" opacity="0.6"/>
<circle cx="260" cy="70" r="5" fill="#333" stroke="none" opacity="0.6"/>
<circle cx="280" cy="60" r="5" fill="#333" stroke="none" opacity="0.6"/>
<circle cx="350" cy="40" r="5" fill="#333" stroke="none" opacity="0.6"/>
<circle cx="380" cy="60" r="5" fill="#333" stroke="none" opacity="0.6"/>
<circle cx="420" cy="80" r="5" fill="#333" stroke="none" opacity="0.6"/>
<circle cx="380" cy="60" r="5" fill="#333" stroke="none" opacity="0.6"/>
<circle cx="400" cy="25" r="5" fill="#333" stroke="none" opacity="0.6"/>
<circle cx="60" cy="200" r="5" fill="#333" stroke="none" opacity="0.6"/>
<circle cx="100" cy="225" r="5" fill="#333" stroke="none" opacity="0.6"/>
<circle cx="150" cy="255" r="5" fill="#333" stroke="none" opacity="0.6"/>
<circle cx="175" cy="270" r="5" fill="#333" stroke="none" opacity="0.6"/>
<circle cx="185" cy="300" r="5" fill="#333" stroke="none" opacity="0.6"/>
<circle cx="175" cy="270" r="5" fill="#333" stroke="none" opacity="0.6"/>
<circle cx="240" cy="240" r="5" fill="#333" stroke="none" opacity="0.6"/>
<circle cx="270" cy="220" r="5" fill="#333" stroke="none" opacity="0.6"/>
<circle cx="300" cy="215" r="5" fill="#333" stroke="none" opacity="0.6"/>
<circle cx="350" cy="230" r="5" fill="#333" stroke="none" opacity="0.6"/>
<circle cx="360" cy="270" r="5" fill="#333" stroke="none" opacity="0.6"/>
<circle cx="380" cy="300" r="5" fill="#333" stroke="none" opacity="0.6"/>
<circle cx="350" cy="230" r="5" fill="#333" stroke="none" opacity="0.6"/>
<circle cx="420" cy="210" r="5" fill="#333" stroke="none" opacity="0.6"/>
<circle cx="440" cy="200" r="5" fill="#333" stroke="none" opacity="0.6"/>
<circle cx="470" cy="180" r="5" fill="#333" stroke="none" opacity="0.6"/>
<circle cx="420" cy="140" r="5" fill="#333" stroke="none" opacity="0.6"/>
<circle cx="410" cy="160" r="5" fill="#333" stroke="none" opacity="0.6"/>
<circle cx="440" cy="200" r="5" fill="#333" stroke="none" opacity="0.6"/>
<circle cx="420" cy="140" r="5" fill="#333" stroke="none" opacity="0.6"/>
<circle cx="260" cy="240" r="5" fill="#333" stroke="none" opacity="0.6"/>
<circle cx="240" cy="290" r="5" fill="#333" stroke="none" opacity="0.6"/>
<circle cx="40" cy="300" r="5" fill="#333" stroke="none" opacity="0.6"/>
<circle cx="180" cy="70" r="6" fill="#444" stroke="none" opacity="0.7"/>
<circle cx="340" cy="125" r="6" fill="#444" stroke="none" opacity="0.7"/>
<circle cx="350" cy="150" r="6" fill="#444" stroke="none" opacity="0.7"/>
</g>
<rect x="258.82" y="532.82" width="92.17" height="60.00" fill="none" stroke="#333" stroke-width="1.1"/>
<rect x="360.32" y="532.32" width="93.17" height="61.00" fill="url(#vig2)"/>
<rect x="360.32" y="532.32" width="93.17" height="61.00" fill="#000" filter="url(#noise)" opacity="0.07"/>
<g transform="translate(356,528) scale(0.19616)" fill="none" stroke-linejoin="round" stroke-linecap="round">
<polyline points="151.3,333.0 137.4,271.8 132.7,209.2" stroke="#777" stroke-width="13" opacity="0.2"/>
<polyline points="22.0,208.3 39.5,196.0 60.6,191.8" stroke="#777" stroke-width="13" opacity="0.2"/>
<polyline points="132.7,209.2 95.7,204.5 60.6,191.8" stroke="#777" stroke-width="13" opacity="0.2"/>
<polyline points="80.2,101.6 57.7,65.3 22.0,41.8" stroke="#777" stroke-width="13" opacity="0.2"/>
<polyline points="60.6,191.8 73.1,147.3 80.2,101.6" stroke="#777" stroke-width="13" opacity="0.2"/>
<polyline points="159.1,84.1 151.8,53.3 156.4,22.0" stroke="#777" stroke-width="13" opacity="0.2"/>
<polyline points="159.1,84.1 188.9,108.0 212.9,137.9" stroke="#777" stroke-width="13" opacity="0.2"/>
<polyline points="248.1,113.9 248.6,67.8 254.2,22.0" stroke="#777" stroke-width="13" opacity="0.2"/>
<polyline points="248.1,113.9 233.0,129.6 212.9,137.9" stroke="#777" stroke-width="13" opacity="0.2"/>
<polyline points="80.2,101.6 119.9,94.0 159.1,84.1" stroke="#777" stroke-width="13" opacity="0.2"/>
<polyline points="209.1,160.6 210.4,149.1 212.9,137.9" stroke="#777" stroke-width="13" opacity="0.2"/>
<polyline points="132.7,209.2 175.3,191.7 209.1,160.6" stroke="#777" stroke-width="13" opacity="0.2"/>
<polyline points="248.1,113.9 290.7,118.6 332.0,106.9" stroke="#777" stroke-width="13" opacity="0.2"/>
<polyline points="332.0,106.9 330.9,64.3 336.7,22.0" stroke="#777" stroke-width="13" opacity="0.2"/>
<polyline points="258.3,228.3 231.7,288.3 183.6,333.0" stroke="#777" stroke-width="13" opacity="0.2"/>
<polyline points="289.8,238.0 287.3,287.6 307.6,333.0" stroke="#777" stroke-width="13" opacity="0.2"/>
<polyline points="258.3,228.3 274.1,233.1 289.8,238.0" stroke="#777" stroke-width="13" opacity="0.2"/>
<polyline points="209.1,160.6 232.7,195.2 258.3,228.3" stroke="#777" stroke-width="13" opacity="0.2"/>
<polyline points="380.0,218.8 408.5,221.6 436.4,228.6" stroke="#777" stroke-width="13" opacity="0.2"/>
<polyline points="380.0,218.8 375.1,214.3 370.0,210.1" stroke="#777" stroke-width="13" opacity="0.2"/>
<polyline points="370.0,210.1 369.0,171.7 370.0,133.4" stroke="#777" stroke-width="13" opacity="0.2"/>
<polyline points="370.0,133.4 394.1,115.8 422.3,106.1" stroke="#777" stroke-width="13" opacity="0.2"/>
<polyline points="422.3,106.1 459.4,117.2 497.0,126.5" stroke="#777" stroke-width="13" opacity="0.2"/>
<polyline points="436.4,228.6 464.0,210.0 497.0,205.6" stroke="#777" stroke-width="13" opacity="0.2"/>
<polyline points="380.0,333.0 394.0,275.9 380.0,218.8" stroke="#777" stroke-width="13" opacity="0.2"/>
<polyline points="463.4,333.0 455.6,279.3 436.4,228.6" stroke="#777" stroke-width="13" opacity="0.2"/>
<polyline points="289.8,238.0 333.2,233.7 370.0,210.1" stroke="#777" stroke-width="13" opacity="0.2"/>
<polyline points="332.0,106.9 351.1,120.0 370.0,133.4" stroke="#777" stroke-width="13" opacity="0.2"/>
<polyline points="427.0,22.0 434.9,64.6 422.3,106.1" stroke="#777" stroke-width="13" opacity="0.2"/>
<polyline points="151.3,333.0 137.4,271.8 132.7,209.2" stroke="#3a3a3a" stroke-width="4.8" opacity="0.7" stroke-dasharray="12 5"/>
<polyline points="22.0,208.3 39.5,196.0 60.6,191.8" stroke="#3a3a3a" stroke-width="4.8" opacity="0.7" stroke-dasharray="12 5"/>
<polyline points="132.7,209.2 95.7,204.5 60.6,191.8" stroke="#3a3a3a" stroke-width="4.8" opacity="0.7" stroke-dasharray="12 5"/>
<polyline points="80.2,101.6 57.7,65.3 22.0,41.8" stroke="#3a3a3a" stroke-width="4.8" opacity="0.7" stroke-dasharray="12 5"/>
<polyline points="60.6,191.8 73.1,147.3 80.2,101.6" stroke="#3a3a3a" stroke-width="4.8" opacity="0.7" stroke-dasharray="12 5"/>
<polyline points="159.1,84.1 151.8,53.3 156.4,22.0" stroke="#3a3a3a" stroke-width="4.8" opacity="0.7" stroke-dasharray="12 5"/>
<polyline points="159.1,84.1 188.9,108.0 212.9,137.9" stroke="#3a3a3a" stroke-width="4.8" opacity="0.7" stroke-dasharray="12 5"/>
<polyline points="248.1,113.9 248.6,67.8 254.2,22.0" stroke="#3a3a3a" stroke-width="4.8" opacity="0.7" stroke-dasharray="12 5"/>
<polyline points="248.1,113.9 233.0,129.6 212.9,137.9" stroke="#3a3a3a" stroke-width="4.8" opacity="0.7" stroke-dasharray="12 5"/>
<polyline points="80.2,101.6 119.9,94.0 159.1,84.1" stroke="#3a3a3a" stroke-width="4.8" opacity="0.7" stroke-dasharray="12 5"/>
<polyline points="209.1,160.6 210.4,149.1 212.9,137.9" stroke="#3a3a3a" stroke-width="4.8" opacity="0.7" stroke-dasharray="12 5"/>
<polyline points="132.7,209.2 175.3,191.7 209.1,160.6" stroke="#3a3a3a" stroke-width="4.8" opacity="0.7" stroke-dasharray="12 5"/>
<polyline points="248.1,113.9 290.7,118.6 332.0,106.9" stroke="#3a3a3a" stroke-width="4.8" opacity="0.7" stroke-dasharray="12 5"/>
<polyline points="332.0,106.9 330.9,64.3 336.7,22.0" stroke="#3a3a3a" stroke-width="4.8" opacity="0.7" stroke-dasharray="12 5"/>
<polyline points="258.3,228.3 231.7,288.3 183.6,333.0" stroke="#3a3a3a" stroke-width="4.8" opacity="0.7" stroke-dasharray="12 5"/>
<polyline points="289.8,238.0 287.3,287.6 307.6,333.0" stroke="#3a3a3a" stroke-width="4.8" opacity="0.7" stroke-dasharray="12 5"/>
<polyline points="258.3,228.3 274.1,233.1 289.8,238.0" stroke="#3a3a3a" stroke-width="4.8" opacity="0.7" stroke-dasharray="12 5"/>
<polyline points="209.1,160.6 232.7,195.2 258.3,228.3" stroke="#3a3a3a" stroke-width="4.8" opacity="0.7" stroke-dasharray="12 5"/>
<polyline points="380.0,218.8 408.5,221.6 436.4,228.6" stroke="#3a3a3a" stroke-width="4.8" opacity="0.7" stroke-dasharray="12 5"/>
<polyline points="380.0,218.8 375.1,214.3 370.0,210.1" stroke="#3a3a3a" stroke-width="4.8" opacity="0.7" stroke-dasharray="12 5"/>
<polyline points="370.0,210.1 369.0,171.7 370.0,133.4" stroke="#3a3a3a" stroke-width="4.8" opacity="0.7" stroke-dasharray="12 5"/>
<polyline points="370.0,133.4 394.1,115.8 422.3,106.1" stroke="#3a3a3a" stroke-width="4.8" opacity="0.7" stroke-dasharray="12 5"/>
<polyline points="422.3,106.1 459.4,117.2 497.0,126.5" stroke="#3a3a3a" stroke-width="4.8" opacity="0.7" stroke-dasharray="12 5"/>
<polyline points="436.4,228.6 464.0,210.0 497.0,205.6" stroke="#3a3a3a" stroke-width="4.8" opacity="0.7" stroke-dasharray="12 5"/>
<polyline points="380.0,333.0 394.0,275.9 380.0,218.8" stroke="#3a3a3a" stroke-width="4.8" opacity="0.7" stroke-dasharray="12 5"/>
<polyline points="463.4,333.0 455.6,279.3 436.4,228.6" stroke="#3a3a3a" stroke-width="4.8" opacity="0.7" stroke-dasharray="12 5"/>
<polyline points="289.8,238.0 333.2,233.7 370.0,210.1" stroke="#3a3a3a" stroke-width="4.8" opacity="0.7" stroke-dasharray="12 5"/>
<polyline points="332.0,106.9 351.1,120.0 370.0,133.4" stroke="#3a3a3a" stroke-width="4.8" opacity="0.7" stroke-dasharray="12 5"/>
<polyline points="427.0,22.0 434.9,64.6 422.3,106.1" stroke="#3a3a3a" stroke-width="4.8" opacity="0.7" stroke-dasharray="12 5"/>
<circle cx="137.4" cy="271.8" r="5" fill="#333" stroke="none" opacity="0.6"/>
<circle cx="132.7" cy="209.2" r="5" fill="#333" stroke="none" opacity="0.6"/>
<circle cx="39.5" cy="196.0" r="5" fill="#333" stroke="none" opacity="0.6"/>
<circle cx="60.6" cy="191.8" r="5" fill="#333" stroke="none" opacity="0.6"/>
<circle cx="132.7" cy="209.2" r="5" fill="#333" stroke="none" opacity="0.6"/>
<circle cx="95.7" cy="204.5" r="5" fill="#333" stroke="none" opacity="0.6"/>
<circle cx="60.6" cy="191.8" r="5" fill="#333" stroke="none" opacity="0.6"/>
<circle cx="80.2" cy="101.6" r="5" fill="#333" stroke="none" opacity="0.6"/>
<circle cx="57.7" cy="65.3" r="5" fill="#333" stroke="none" opacity="0.6"/>
<circle cx="60.6" cy="191.8" r="5" fill="#333" stroke="none" opacity="0.6"/>
<circle cx="73.1" cy="147.3" r="5" fill="#333" stroke="none" opacity="0.6"/>
<circle cx="80.2" cy="101.6" r="5" fill="#333" stroke="none" opacity="0.6"/>
<circle cx="159.1" cy="84.1" r="5" fill="#333" stroke="none" opacity="0.6"/>
<circle cx="151.8" cy="53.3" r="5" fill="#333" stroke="none" opacity="0.6"/>
<circle cx="159.1" cy="84.1" r="5" fill="#333" stroke="none" opacity="0.6"/>
<circle cx="188.9" cy="108.0" r="5" fill="#333" stroke="none" opacity="0.6"/>
<circle cx="212.9" cy="137.9" r="5" fill="#333" stroke="none" opacity="0.6"/>
<circle cx="248.1" cy="113.9" r="5" fill="#333" stroke="none" opacity="0.6"/>
<circle cx="248.6" cy="67.8" r="5" fill="#333" stroke="none" opacity="0.6"/>
<circle cx="248.1" cy="113.9" r="5" fill="#333" stroke="none" opacity="0.6"/>
<circle cx="233.0" cy="129.6" r="5" fill="#333" stroke="none" opacity="0.6"/>
<circle cx="212.9" cy="137.9" r="5" fill="#333" stroke="none" opacity="0.6"/>
<circle cx="80.2" cy="101.6" r="5" fill="#333" stroke="none" opacity="0.6"/>
<circle cx="119.9" cy="94.0" r="5" fill="#333" stroke="none" opacity="0.6"/>
<circle cx="159.1" cy="84.1" r="5" fill="#333" stroke="none" opacity="0.6"/>
<circle cx="209.1" cy="160.6" r="5" fill="#333" stroke="none" opacity="0.6"/>
<circle cx="210.4" cy="149.1" r="5" fill="#333" stroke="none" opacity="0.6"/>
<circle cx="212.9" cy="137.9" r="5" fill="#333" stroke="none" opacity="0.6"/>
<circle cx="132.7" cy="209.2" r="5" fill="#333" stroke="none" opacity="0.6"/>
<circle cx="175.3" cy="191.7" r="5" fill="#333" stroke="none" opacity="0.6"/>
<circle cx="209.1" cy="160.6" r="5" fill="#333" stroke="none" opacity="0.6"/>
<circle cx="248.1" cy="113.9" r="5" fill="#333" stroke="none" opacity="0.6"/>
<circle cx="290.7" cy="118.6" r="5" fill="#333" stroke="none" opacity="0.6"/>
<circle cx="332.0" cy="106.9" r="5" fill="#333" stroke="none" opacity="0.6"/>
<circle cx="332.0" cy="106.9" r="5" fill="#333" stroke="none" opacity="0.6"/>
<circle cx="330.9" cy="64.3" r="5" fill="#333" stroke="none" opacity="0.6"/>
<circle cx="258.3" cy="228.3" r="5" fill="#333" stroke="none" opacity="0.6"/>
<circle cx="231.7" cy="288.3" r="5" fill="#333" stroke="none" opacity="0.6"/>
<circle cx="289.8" cy="238.0" r="5" fill="#333" stroke="none" opacity="0.6"/>
<circle cx="287.3" cy="287.6" r="5" fill="#333" stroke="none" opacity="0.6"/>
<circle cx="258.3" cy="228.3" r="5" fill="#333" stroke="none" opacity="0.6"/>
<circle cx="274.1" cy="233.1" r="5" fill="#333" stroke="none" opacity="0.6"/>
<circle cx="289.8" cy="238.0" r="5" fill="#333" stroke="none" opacity="0.6"/>
<circle cx="209.1" cy="160.6" r="5" fill="#333" stroke="none" opacity="0.6"/>
<circle cx="232.7" cy="195.2" r="5" fill="#333" stroke="none" opacity="0.6"/>
<circle cx="258.3" cy="228.3" r="5" fill="#333" stroke="none" opacity="0.6"/>
<circle cx="380.0" cy="218.8" r="5" fill="#333" stroke="none" opacity="0.6"/>
<circle cx="408.5" cy="221.6" r="5" fill="#333" stroke="none" opacity="0.6"/>
<circle cx="436.4" cy="228.6" r="5" fill="#333" stroke="none" opacity="0.6"/>
<circle cx="380.0" cy="218.8" r="5" fill="#333" stroke="none" opacity="0.6"/>
<circle cx="375.1" cy="214.3" r="5" fill="#333" stroke="none" opacity="0.6"/>
<circle cx="370.0" cy="210.1" r="5" fill="#333" stroke="none" opacity="0.6"/>
<circle cx="370.0" cy="210.1" r="5" fill="#333" stroke="none" opacity="0.6"/>
<circle cx="369.0" cy="171.7" r="5" fill="#333" stroke="none" opacity="0.6"/>
<circle cx="370.0" cy="133.4" r="5" fill="#333" stroke="none" opacity="0.6"/>
<circle cx="370.0" cy="133.4" r="5" fill="#333" stroke="none" opacity="0.6"/>
<circle cx="394.1" cy="115.8" r="5" fill="#333" stroke="none" opacity="0.6"/>
<circle cx="422.3" cy="106.1" r="5" fill="#333" stroke="none" opacity="0.6"/>
<circle cx="422.3" cy="106.1" r="5" fill="#333" stroke="none" opacity="0.6"/>
<circle cx="459.4" cy="117.2" r="5" fill="#333" stroke="none" opacity="0.6"/>
<circle cx="436.4" cy="228.6" r="5" fill="#333" stroke="none" opacity="0.6"/>
<circle cx="464.0" cy="210.0" r="5" fill="#333" stroke="none" opacity="0.6"/>
<circle cx="394.0" cy="275.9" r="5" fill="#333" stroke="none" opacity="0.6"/>
<circle cx="380.0" cy="218.8" r="5" fill="#333" stroke="none" opacity="0.6"/>
<circle cx="455.6" cy="279.3" r="5" fill="#333" stroke="none" opacity="0.6"/>
<circle cx="436.4" cy="228.6" r="5" fill="#333" stroke="none" opacity="0.6"/>
<circle cx="289.8" cy="238.0" r="5" fill="#333" stroke="none" opacity="0.6"/>
<circle cx="333.2" cy="233.7" r="5" fill="#333" stroke="none" opacity="0.6"/>
<circle cx="370.0" cy="210.1" r="5" fill="#333" stroke="none" opacity="0.6"/>
<circle cx="332.0" cy="106.9" r="5" fill="#333" stroke="none" opacity="0.6"/>
<circle cx="351.1" cy="120.0" r="5" fill="#333" stroke="none" opacity="0.6"/>
<circle cx="370.0" cy="133.4" r="5" fill="#333" stroke="none" opacity="0.6"/>
<circle cx="434.9" cy="64.6" r="5" fill="#333" stroke="none" opacity="0.6"/>
<circle cx="422.3" cy="106.1" r="5" fill="#333" stroke="none" opacity="0.6"/>
</g>
<rect x="360.82" y="532.82" width="92.17" height="60.00" fill="none" stroke="#333" stroke-width="1.1"/>
<rect x="54.20" y="735.80" width="16.50" height="84.70" fill="#fff" stroke="#000" stroke-width="2.2"/>
<line x1="62.45" y1="732.8" x2="62.45" y2="737" stroke="#000" stroke-width="1.6"/>
<line x1="58.95" y1="732.8" x2="65.95" y2="732.8" stroke="#000" stroke-width="1.6"/>
<line x1="58.95" y1="737" x2="65.95" y2="737" stroke="#000" stroke-width="1.6"/>
<rect x="75.3" y="700.4" width="19.700000000000003" height="120.10000000000002" fill="#000"/>
<line x1="85.15" y1="693.9" x2="85.15" y2="705" stroke="#000" stroke-width="1.6"/>
<line x1="81.65" y1="693.9" x2="88.65" y2="693.9" stroke="#000" stroke-width="1.6"/>
<line x1="81.65" y1="705" x2="88.65" y2="705" stroke="#000" stroke-width="1.6"/>
<rect x="97.8" y="755.6" width="19.400000000000006" height="64.89999999999998" fill="#000"/>
<line x1="107.5" y1="736.3" x2="107.5" y2="760" stroke="#000" stroke-width="1.6"/>
<line x1="104.0" y1="736.3" x2="111.0" y2="736.3" stroke="#000" stroke-width="1.6"/>
<line x1="104.0" y1="760" x2="111.0" y2="760" stroke="#000" stroke-width="1.6"/>
<rect x="120" y="718" width="19.400000000000006" height="102.5" fill="#000"/>
<line x1="129.7" y1="707.3" x2="129.7" y2="722" stroke="#000" stroke-width="1.6"/>
<line x1="126.19999999999999" y1="707.3" x2="133.2" y2="707.3" stroke="#000" stroke-width="1.6"/>
<line x1="126.19999999999999" y1="722" x2="133.2" y2="722" stroke="#000" stroke-width="1.6"/>
<rect x="166.30" y="735.70" width="16.40" height="84.80" fill="#fff" stroke="#000" stroke-width="2.2"/>
<line x1="174.5" y1="732.5" x2="174.5" y2="737" stroke="#000" stroke-width="1.6"/>
<line x1="171.0" y1="732.5" x2="178.0" y2="732.5" stroke="#000" stroke-width="1.6"/>
<line x1="171.0" y1="737" x2="178.0" y2="737" stroke="#000" stroke-width="1.6"/>
<rect x="187" y="692.3" width="19.30000000000001" height="128.20000000000005" fill="#9b9b9b"/>
<line x1="196.65" y1="679" x2="196.65" y2="707.7" stroke="#000" stroke-width="1.6"/>
<line x1="193.15" y1="679" x2="200.15" y2="679" stroke="#000" stroke-width="1.6"/>
<line x1="193.15" y1="707.7" x2="200.15" y2="707.7" stroke="#000" stroke-width="1.6"/>
<rect x="209.2" y="770.1" width="19.100000000000023" height="50.39999999999998" fill="#9b9b9b"/>
<line x1="218.75" y1="760.6" x2="218.75" y2="781.7" stroke="#000" stroke-width="1.6"/>
<line x1="215.25" y1="760.6" x2="222.25" y2="760.6" stroke="#000" stroke-width="1.6"/>
<line x1="215.25" y1="781.7" x2="222.25" y2="781.7" stroke="#000" stroke-width="1.6"/>
<rect x="231.9" y="682.3" width="18.599999999999994" height="138.20000000000005" fill="#9b9b9b"/>
<line x1="241.2" y1="674.3" x2="241.2" y2="692.3" stroke="#000" stroke-width="1.6"/>
<line x1="237.7" y1="674.3" x2="244.7" y2="674.3" stroke="#000" stroke-width="1.6"/>
<line x1="237.7" y1="692.3" x2="244.7" y2="692.3" stroke="#000" stroke-width="1.6"/>
<rect x="277.00" y="735.70" width="16.40" height="84.80" fill="#fff" stroke="#000" stroke-width="2.2"/>
<line x1="285.2" y1="732.5" x2="285.2" y2="737" stroke="#000" stroke-width="1.6"/>
<line x1="281.7" y1="732.5" x2="288.7" y2="732.5" stroke="#000" stroke-width="1.6"/>
<line x1="281.7" y1="737" x2="288.7" y2="737" stroke="#000" stroke-width="1.6"/>
<rect x="299.10" y="673.90" width="16.50" height="146.60" fill="#dadada" stroke="#000" stroke-width="2.2"/>
<line x1="307.35" y1="659.5" x2="307.35" y2="687.6" stroke="#000" stroke-width="1.6"/>
<line x1="303.85" y1="659.5" x2="310.85" y2="659.5" stroke="#000" stroke-width="1.6"/>
<line x1="303.85" y1="687.6" x2="310.85" y2="687.6" stroke="#000" stroke-width="1.6"/>
<rect x="321.80" y="780.70" width="15.80" height="39.80" fill="#dadada" stroke="#000" stroke-width="2.2"/>
<line x1="329.7" y1="775.4" x2="329.7" y2="784.3" stroke="#000" stroke-width="1.6"/>
<line x1="326.2" y1="775.4" x2="333.2" y2="775.4" stroke="#000" stroke-width="1.6"/>
<line x1="326.2" y1="784.3" x2="333.2" y2="784.3" stroke="#000" stroke-width="1.6"/>
<rect x="344.10" y="706.70" width="16.30" height="113.80" fill="#dadada" stroke="#000" stroke-width="2.2"/>
<line x1="352.25" y1="688.7" x2="352.25" y2="722.9" stroke="#000" stroke-width="1.6"/>
<line x1="348.75" y1="688.7" x2="355.75" y2="688.7" stroke="#000" stroke-width="1.6"/>
<line x1="348.75" y1="722.9" x2="355.75" y2="722.9" stroke="#000" stroke-width="1.6"/>
<rect x="388.60" y="736.85" width="15.30" height="83.65" fill="#fff" stroke="#000" stroke-width="2.2"/>
<line x1="396.25" y1="725.75" x2="396.25" y2="747" stroke="#000" stroke-width="1.6"/>
<line x1="392.75" y1="725.75" x2="399.75" y2="725.75" stroke="#000" stroke-width="1.6"/>
<line x1="392.75" y1="747" x2="399.75" y2="747" stroke="#000" stroke-width="1.6"/>
<rect x="410.35" y="686.85" width="16.55" height="133.65" fill="#777777" stroke="#000" stroke-width="2.2"/>
<line x1="418.625" y1="680.75" x2="418.625" y2="691.25" stroke="#000" stroke-width="1.6"/>
<line x1="415.125" y1="680.75" x2="422.125" y2="680.75" stroke="#000" stroke-width="1.6"/>
<line x1="415.125" y1="691.25" x2="422.125" y2="691.25" stroke="#000" stroke-width="1.6"/>
<rect x="432.35" y="693.10" width="16.55" height="127.40" fill="#777777" stroke="#000" stroke-width="2.2"/>
<line x1="440.625" y1="683.25" x2="440.625" y2="702.5" stroke="#000" stroke-width="1.6"/>
<line x1="437.125" y1="683.25" x2="444.125" y2="683.25" stroke="#000" stroke-width="1.6"/>
<line x1="437.125" y1="702.5" x2="444.125" y2="702.5" stroke="#000" stroke-width="1.6"/>
<rect x="454.35" y="690.60" width="17.05" height="129.90" fill="#777777" stroke="#000" stroke-width="2.2"/>
<line x1="462.875" y1="677.5" x2="462.875" y2="703.25" stroke="#000" stroke-width="1.6"/>
<line x1="459.375" y1="677.5" x2="466.375" y2="677.5" stroke="#000" stroke-width="1.6"/>
<line x1="459.375" y1="703.25" x2="466.375" y2="703.25" stroke="#000" stroke-width="1.6"/>
<line x1="52" y1="651" x2="52" y2="821.5" stroke="#000" stroke-width="1.9"/>
<line x1="51" y1="820.5" x2="474.5" y2="820.5" stroke="#000" stroke-width="1.9"/>
<line x1="52.0" y1="820.5" x2="52.0" y2="824.5" stroke="#000" stroke-width="1.6"/>
<line x1="74.2" y1="820.5" x2="74.2" y2="824.5" stroke="#000" stroke-width="1.6"/>
<line x1="96.4" y1="820.5" x2="96.4" y2="824.5" stroke="#000" stroke-width="1.6"/>
<line x1="118.6" y1="820.5" x2="118.6" y2="824.5" stroke="#000" stroke-width="1.6"/>
<line x1="140.8" y1="820.5" x2="140.8" y2="824.5" stroke="#000" stroke-width="1.6"/>
<line x1="163.0" y1="820.5" x2="163.0" y2="824.5" stroke="#000" stroke-width="1.6"/>
<line x1="185.2" y1="820.5" x2="185.2" y2="824.5" stroke="#000" stroke-width="1.6"/>
<line x1="207.4" y1="820.5" x2="207.4" y2="824.5" stroke="#000" stroke-width="1.6"/>
<line x1="229.6" y1="820.5" x2="229.6" y2="824.5" stroke="#000" stroke-width="1.6"/>
<line x1="251.79999999999998" y1="820.5" x2="251.79999999999998" y2="824.5" stroke="#000" stroke-width="1.6"/>
<line x1="274.0" y1="820.5" x2="274.0" y2="824.5" stroke="#000" stroke-width="1.6"/>
<line x1="296.2" y1="820.5" x2="296.2" y2="824.5" stroke="#000" stroke-width="1.6"/>
<line x1="318.4" y1="820.5" x2="318.4" y2="824.5" stroke="#000" stroke-width="1.6"/>
<line x1="340.59999999999997" y1="820.5" x2="340.59999999999997" y2="824.5" stroke="#000" stroke-width="1.6"/>
<line x1="362.8" y1="820.5" x2="362.8" y2="824.5" stroke="#000" stroke-width="1.6"/>
<line x1="385.0" y1="820.5" x2="385.0" y2="824.5" stroke="#000" stroke-width="1.6"/>
<line x1="407.2" y1="820.5" x2="407.2" y2="824.5" stroke="#000" stroke-width="1.6"/>
<line x1="429.4" y1="820.5" x2="429.4" y2="824.5" stroke="#000" stroke-width="1.6"/>
<line x1="451.59999999999997" y1="820.5" x2="451.59999999999997" y2="824.5" stroke="#000" stroke-width="1.6"/>
<line x1="473.8" y1="820.5" x2="473.8" y2="824.5" stroke="#000" stroke-width="1.6"/>
<line x1="47.5" y1="820.5" x2="52" y2="820.5" stroke="#000" stroke-width="1.6"/>
<text x="47" y="824.5" font-size="13" font-weight="bold" text-anchor="end">0</text>
<line x1="47.5" y1="780.675" x2="52" y2="780.675" stroke="#000" stroke-width="1.6"/>
<text x="47" y="784.7" font-size="13" font-weight="bold" text-anchor="end">20</text>
<line x1="47.5" y1="740.85" x2="52" y2="740.85" stroke="#000" stroke-width="1.6"/>
<text x="47" y="744.9" font-size="13" font-weight="bold" text-anchor="end">40</text>
<line x1="47.5" y1="701.0250000000001" x2="52" y2="701.0250000000001" stroke="#000" stroke-width="1.6"/>
<text x="47" y="705.0" font-size="13" font-weight="bold" text-anchor="end">60</text>
<line x1="47.5" y1="661.2" x2="52" y2="661.2" stroke="#000" stroke-width="1.6"/>
<text x="47" y="665.2" font-size="13" font-weight="bold" text-anchor="end">80</text>
<path d="M75.3 678.3000000000001 V674.1 H135.9 V678.3000000000001" fill="none" stroke="#222" stroke-width="1.3"/>
<path d="M97.8 701.4 V696.4 H139.4 V701.4" fill="none" stroke="#222" stroke-width="1.3"/>
<path d="M182.8 654.8 V649.5 H249.4 V654.8" fill="none" stroke="#222" stroke-width="1.3"/>
<path d="M208.6 673.2 V668.6 H249.4 V673.2" fill="none" stroke="#222" stroke-width="1.3"/>
<path d="M294.5 655.9 V650.6 H360.9 V655.9" fill="none" stroke="#222" stroke-width="1.3"/>
<path d="M324 683.4 V678.5 H362.6 V683.4" fill="none" stroke="#222" stroke-width="1.3"/>
<path d="M408 669.5 V665 H470 V669.5" fill="none" stroke="#222" stroke-width="1.3"/>
<text x="105.2" y="669" font-size="13" font-weight="bold" text-anchor="middle" fill="#000" >+HGF</text>
<text x="215.8" y="645.2" font-size="13" font-weight="bold" text-anchor="middle" fill="#000" >+VEGF-A165</text>
<text x="329.2" y="648" font-size="13" font-weight="bold" text-anchor="middle" fill="#000" >+VEGF-A121</text>
<text x="435.3" y="660" font-size="13" font-weight="bold" text-anchor="middle" fill="#000" >+PDGF</text>
<line x1="118.50" y1="685.70" x2="118.50" y2="694.30" stroke="#000" stroke-width="1.6" stroke-linecap="round"/>
<line x1="114.78" y1="687.85" x2="122.22" y2="692.15" stroke="#000" stroke-width="1.6" stroke-linecap="round"/>
<line x1="122.22" y1="687.85" x2="114.78" y2="692.15" stroke="#000" stroke-width="1.6" stroke-linecap="round"/>
<circle cx="118.5" cy="690" r="1.3" fill="#000"/>
<line x1="231.40" y1="656.90" x2="231.40" y2="665.50" stroke="#000" stroke-width="1.6" stroke-linecap="round"/>
<line x1="227.68" y1="659.05" x2="235.12" y2="663.35" stroke="#000" stroke-width="1.6" stroke-linecap="round"/>
<line x1="235.12" y1="659.05" x2="227.68" y2="663.35" stroke="#000" stroke-width="1.6" stroke-linecap="round"/>
<circle cx="231.4" cy="661.2" r="1.3" fill="#000"/>
<line x1="344.60" y1="666.60" x2="344.60" y2="675.20" stroke="#000" stroke-width="1.6" stroke-linecap="round"/>
<line x1="340.88" y1="668.75" x2="348.32" y2="673.05" stroke="#000" stroke-width="1.6" stroke-linecap="round"/>
<line x1="348.32" y1="668.75" x2="340.88" y2="673.05" stroke="#000" stroke-width="1.6" stroke-linecap="round"/>
<circle cx="344.6" cy="670.9" r="1.3" fill="#000"/>
<text transform="translate(25,736.9) rotate(-90)" font-size="13" font-weight="bold" text-anchor="middle" textLength="192" lengthAdjust="spacingAndGlyphs">connections (number per area)</text>
<rect x="55.30" y="973.50" width="16.90" height="103.30" fill="#fff" stroke="#000" stroke-width="2.2"/>
<line x1="63.75" y1="964.8" x2="63.75" y2="981.8" stroke="#000" stroke-width="1.6"/>
<line x1="60.25" y1="964.8" x2="67.25" y2="964.8" stroke="#000" stroke-width="1.6"/>
<line x1="60.25" y1="981.8" x2="67.25" y2="981.8" stroke="#000" stroke-width="1.6"/>
<rect x="76.5" y="947.3" width="18.299999999999997" height="129.5" fill="#000"/>
<line x1="85.65" y1="944" x2="85.65" y2="950" stroke="#000" stroke-width="1.6"/>
<line x1="82.15" y1="944" x2="89.15" y2="944" stroke="#000" stroke-width="1.6"/>
<line x1="82.15" y1="950" x2="89.15" y2="950" stroke="#000" stroke-width="1.6"/>
<rect x="98" y="993.6" width="18.599999999999994" height="83.19999999999993" fill="#000"/>
<line x1="107.3" y1="985.8" x2="107.3" y2="1000" stroke="#000" stroke-width="1.6"/>
<line x1="103.8" y1="985.8" x2="110.8" y2="985.8" stroke="#000" stroke-width="1.6"/>
<line x1="103.8" y1="1000" x2="110.8" y2="1000" stroke="#000" stroke-width="1.6"/>
<rect x="119.9" y="951.9" width="18.5" height="124.89999999999998" fill="#000"/>
<line x1="129.15" y1="949.2" x2="129.15" y2="955" stroke="#000" stroke-width="1.6"/>
<line x1="125.65" y1="949.2" x2="132.65" y2="949.2" stroke="#000" stroke-width="1.6"/>
<line x1="125.65" y1="955" x2="132.65" y2="955" stroke="#000" stroke-width="1.6"/>
<rect x="164.90" y="973.50" width="15.70" height="103.30" fill="#fff" stroke="#000" stroke-width="2.2"/>
<line x1="172.75" y1="963.6" x2="172.75" y2="981.5" stroke="#000" stroke-width="1.6"/>
<line x1="169.25" y1="963.6" x2="176.25" y2="963.6" stroke="#000" stroke-width="1.6"/>
<line x1="169.25" y1="981.5" x2="176.25" y2="981.5" stroke="#000" stroke-width="1.6"/>
<rect x="184.9" y="933.3" width="19.0" height="143.5" fill="#9b9b9b"/>
<line x1="194.4" y1="916.4" x2="194.4" y2="951.9" stroke="#000" stroke-width="1.6"/>
<line x1="190.9" y1="916.4" x2="197.9" y2="916.4" stroke="#000" stroke-width="1.6"/>
<line x1="190.9" y1="951.9" x2="197.9" y2="951.9" stroke="#000" stroke-width="1.6"/>
<rect x="206.7" y="1005.2" width="18.80000000000001" height="71.59999999999991" fill="#9b9b9b"/>
<line x1="216.1" y1="997.4" x2="216.1" y2="1015.4" stroke="#000" stroke-width="1.6"/>
<line x1="212.6" y1="997.4" x2="219.6" y2="997.4" stroke="#000" stroke-width="1.6"/>
<line x1="212.6" y1="1015.4" x2="219.6" y2="1015.4" stroke="#000" stroke-width="1.6"/>
<rect x="228.7" y="932.5" width="18.600000000000023" height="144.29999999999995" fill="#9b9b9b"/>
<line x1="238.0" y1="925.5" x2="238.0" y2="940.9" stroke="#000" stroke-width="1.6"/>
<line x1="234.5" y1="925.5" x2="241.5" y2="925.5" stroke="#000" stroke-width="1.6"/>
<line x1="234.5" y1="940.9" x2="241.5" y2="940.9" stroke="#000" stroke-width="1.6"/>
<rect x="273.40" y="967.20" width="15.80" height="109.60" fill="#fff" stroke="#000" stroke-width="2.2"/>
<rect x="295.40" y="944.10" width="16.00" height="132.70" fill="#dadada" stroke="#000" stroke-width="2.2"/>
<line x1="303.4" y1="940.9" x2="303.4" y2="946" stroke="#000" stroke-width="1.6"/>
<line x1="299.9" y1="940.9" x2="306.9" y2="940.9" stroke="#000" stroke-width="1.6"/>
<line x1="299.9" y1="946" x2="306.9" y2="946" stroke="#000" stroke-width="1.6"/>
<rect x="317.10" y="992.80" width="15.80" height="84.00" fill="#dadada" stroke="#000" stroke-width="2.2"/>
<line x1="325.0" y1="983.7" x2="325.0" y2="1001.2" stroke="#000" stroke-width="1.6"/>
<line x1="321.5" y1="983.7" x2="328.5" y2="983.7" stroke="#000" stroke-width="1.6"/>
<line x1="321.5" y1="1001.2" x2="328.5" y2="1001.2" stroke="#000" stroke-width="1.6"/>
<rect x="338.70" y="935.70" width="16.00" height="141.10" fill="#dadada" stroke="#000" stroke-width="2.2"/>
<line x1="346.70000000000005" y1="930.3" x2="346.70000000000005" y2="939.9" stroke="#000" stroke-width="1.6"/>
<line x1="343.20000000000005" y1="930.3" x2="350.20000000000005" y2="930.3" stroke="#000" stroke-width="1.6"/>
<line x1="343.20000000000005" y1="939.9" x2="350.20000000000005" y2="939.9" stroke="#000" stroke-width="1.6"/>
<rect x="381.85" y="980.60" width="16.30" height="96.20" fill="#fff" stroke="#000" stroke-width="2.2"/>
<line x1="390.0" y1="977" x2="390.0" y2="982.5" stroke="#000" stroke-width="1.6"/>
<line x1="386.5" y1="977" x2="393.5" y2="977" stroke="#000" stroke-width="1.6"/>
<line x1="386.5" y1="982.5" x2="393.5" y2="982.5" stroke="#000" stroke-width="1.6"/>
<rect x="403.60" y="930.35" width="16.55" height="146.45" fill="#777777" stroke="#000" stroke-width="2.2"/>
<line x1="411.875" y1="927" x2="411.875" y2="932" stroke="#000" stroke-width="1.6"/>
<line x1="408.375" y1="927" x2="415.375" y2="927" stroke="#000" stroke-width="1.6"/>
<line x1="408.375" y1="932" x2="415.375" y2="932" stroke="#000" stroke-width="1.6"/>
<rect x="425.35" y="927.35" width="16.05" height="149.45" fill="#777777" stroke="#000" stroke-width="2.2"/>
<line x1="433.375" y1="922" x2="433.375" y2="930.75" stroke="#000" stroke-width="1.6"/>
<line x1="429.875" y1="922" x2="436.875" y2="922" stroke="#000" stroke-width="1.6"/>
<line x1="429.875" y1="930.75" x2="436.875" y2="930.75" stroke="#000" stroke-width="1.6"/>
<rect x="446.85" y="931.60" width="16.30" height="145.20" fill="#777777" stroke="#000" stroke-width="2.2"/>
<line x1="455.0" y1="927.5" x2="455.0" y2="934.25" stroke="#000" stroke-width="1.6"/>
<line x1="451.5" y1="927.5" x2="458.5" y2="927.5" stroke="#000" stroke-width="1.6"/>
<line x1="451.5" y1="934.25" x2="458.5" y2="934.25" stroke="#000" stroke-width="1.6"/>
<line x1="53.1" y1="907" x2="53.1" y2="1077.8" stroke="#000" stroke-width="1.9"/>
<line x1="52.1" y1="1076.8" x2="465" y2="1076.8" stroke="#000" stroke-width="1.9"/>
<line x1="53.1" y1="1076.8" x2="53.1" y2="1080.8" stroke="#000" stroke-width="1.6"/>
<line x1="74.78" y1="1076.8" x2="74.78" y2="1080.8" stroke="#000" stroke-width="1.6"/>
<line x1="96.46000000000001" y1="1076.8" x2="96.46000000000001" y2="1080.8" stroke="#000" stroke-width="1.6"/>
<line x1="118.13999999999999" y1="1076.8" x2="118.13999999999999" y2="1080.8" stroke="#000" stroke-width="1.6"/>
<line x1="139.82" y1="1076.8" x2="139.82" y2="1080.8" stroke="#000" stroke-width="1.6"/>
<line x1="161.5" y1="1076.8" x2="161.5" y2="1080.8" stroke="#000" stroke-width="1.6"/>
<line x1="183.17999999999998" y1="1076.8" x2="183.17999999999998" y2="1080.8" stroke="#000" stroke-width="1.6"/>
<line x1="204.85999999999999" y1="1076.8" x2="204.85999999999999" y2="1080.8" stroke="#000" stroke-width="1.6"/>
<line x1="226.54" y1="1076.8" x2="226.54" y2="1080.8" stroke="#000" stroke-width="1.6"/>
<line x1="248.22" y1="1076.8" x2="248.22" y2="1080.8" stroke="#000" stroke-width="1.6"/>
<line x1="269.90000000000003" y1="1076.8" x2="269.90000000000003" y2="1080.8" stroke="#000" stroke-width="1.6"/>
<line x1="291.58" y1="1076.8" x2="291.58" y2="1080.8" stroke="#000" stroke-width="1.6"/>
<line x1="313.26" y1="1076.8" x2="313.26" y2="1080.8" stroke="#000" stroke-width="1.6"/>
<line x1="334.94" y1="1076.8" x2="334.94" y2="1080.8" stroke="#000" stroke-width="1.6"/>
<line x1="356.62" y1="1076.8" x2="356.62" y2="1080.8" stroke="#000" stroke-width="1.6"/>
<line x1="378.3" y1="1076.8" x2="378.3" y2="1080.8" stroke="#000" stroke-width="1.6"/>
<line x1="399.98" y1="1076.8" x2="399.98" y2="1080.8" stroke="#000" stroke-width="1.6"/>
<line x1="421.66" y1="1076.8" x2="421.66" y2="1080.8" stroke="#000" stroke-width="1.6"/>
<line x1="443.34000000000003" y1="1076.8" x2="443.34000000000003" y2="1080.8" stroke="#000" stroke-width="1.6"/>
<line x1="465.02000000000004" y1="1076.8" x2="465.02000000000004" y2="1080.8" stroke="#000" stroke-width="1.6"/>
<line x1="48.6" y1="1076.8" x2="53.1" y2="1076.8" stroke="#000" stroke-width="1.6"/>
<text x="48" y="1080.8" font-size="13" font-weight="bold" text-anchor="end">0</text>
<line x1="48.6" y1="1043.1" x2="53.1" y2="1043.1" stroke="#000" stroke-width="1.6"/>
<text x="48" y="1047.1" font-size="13" font-weight="bold" text-anchor="end">5</text>
<line x1="48.6" y1="1009.4" x2="53.1" y2="1009.4" stroke="#000" stroke-width="1.6"/>
<text x="48" y="1013.4" font-size="13" font-weight="bold" text-anchor="end">10</text>
<line x1="48.6" y1="975.6999999999999" x2="53.1" y2="975.6999999999999" stroke="#000" stroke-width="1.6"/>
<text x="48" y="979.7" font-size="13" font-weight="bold" text-anchor="end">15</text>
<line x1="48.6" y1="942.0" x2="53.1" y2="942.0" stroke="#000" stroke-width="1.6"/>
<text x="48" y="946.0" font-size="13" font-weight="bold" text-anchor="end">20</text>
<line x1="48.6" y1="908.3" x2="53.1" y2="908.3" stroke="#000" stroke-width="1.6"/>
<text x="48" y="912.3" font-size="13" font-weight="bold" text-anchor="end">25</text>
<path d="M74.6 932.5 V928.5 H135.2 V932.5" fill="none" stroke="#222" stroke-width="1.3"/>
<path d="M96.7 948.7 V944.6 H137.4 V948.7" fill="none" stroke="#222" stroke-width="1.3"/>
<path d="M181.7 909.0 V903.9 H247.3 V909.0" fill="none" stroke="#222" stroke-width="1.3"/>
<path d="M206.7 927.6 V923 H247.7 V927.6" fill="none" stroke="#222" stroke-width="1.3"/>
<path d="M291.7 909.5999999999999 V904.8 H356.9 V909.5999999999999" fill="none" stroke="#222" stroke-width="1.3"/>
<path d="M321.3 930.8 V925.5 H358.8 V930.8" fill="none" stroke="#222" stroke-width="1.3"/>
<path d="M403.75 923.0 V918.75 H465 V923.0" fill="none" stroke="#222" stroke-width="1.3"/>
<text x="105.6" y="923.5" font-size="13" font-weight="bold" text-anchor="middle" fill="#000" >+HGF</text>
<text x="213.5" y="899.5" font-size="13" font-weight="bold" text-anchor="middle" fill="#000" >+VEGF-A165</text>
<text x="326.6" y="901.2" font-size="13" font-weight="bold" text-anchor="middle" fill="#000" >+VEGF-A121</text>
<text x="430.75" y="914" font-size="13" font-weight="bold" text-anchor="middle" fill="#000" >+PDGF</text>
<line x1="117.20" y1="933.00" x2="117.20" y2="941.60" stroke="#000" stroke-width="1.6" stroke-linecap="round"/>
<line x1="113.48" y1="935.15" x2="120.92" y2="939.45" stroke="#000" stroke-width="1.6" stroke-linecap="round"/>
<line x1="120.92" y1="935.15" x2="113.48" y2="939.45" stroke="#000" stroke-width="1.6" stroke-linecap="round"/>
<circle cx="117.2" cy="937.3" r="1.3" fill="#000"/>
<line x1="228.30" y1="912.00" x2="228.30" y2="920.60" stroke="#000" stroke-width="1.6" stroke-linecap="round"/>
<line x1="224.58" y1="914.15" x2="232.02" y2="918.45" stroke="#000" stroke-width="1.6" stroke-linecap="round"/>
<line x1="232.02" y1="914.15" x2="224.58" y2="918.45" stroke="#000" stroke-width="1.6" stroke-linecap="round"/>
<circle cx="228.3" cy="916.3" r="1.3" fill="#000"/>
<line x1="341.40" y1="914.50" x2="341.40" y2="923.10" stroke="#000" stroke-width="1.6" stroke-linecap="round"/>
<line x1="337.68" y1="916.65" x2="345.12" y2="920.95" stroke="#000" stroke-width="1.6" stroke-linecap="round"/>
<line x1="345.12" y1="916.65" x2="337.68" y2="920.95" stroke="#000" stroke-width="1.6" stroke-linecap="round"/>
<circle cx="341.4" cy="918.8" r="1.3" fill="#000"/>
<text transform="translate(25.5,993) rotate(-90)" font-size="13" font-weight="bold" text-anchor="middle" textLength="204.6" lengthAdjust="spacingAndGlyphs">vessel length (10<tspan font-size="8.5" dy="-5">6</tspan><tspan dy="5"> pixel per area)</tspan></text>
<text transform="translate(89.3,832.3) rotate(-30.5)" font-size="12.8" font-weight="bold" text-anchor="end">untreated</text>
<text transform="translate(111.5,832.3) rotate(-30.5)" font-size="12.8" font-weight="bold" text-anchor="end">v6 peptide</text>
<text transform="translate(133.7,832.3) rotate(-30.5)" font-size="12.8" font-weight="bold" text-anchor="end">ctl peptide</text>
<text transform="translate(200.89999999999998,832.3) rotate(-30.5)" font-size="12.8" font-weight="bold" text-anchor="end">untreated</text>
<text transform="translate(223.1,832.3) rotate(-30.5)" font-size="12.8" font-weight="bold" text-anchor="end">v6 peptide</text>
<text transform="translate(245.29999999999998,832.3) rotate(-30.5)" font-size="12.8" font-weight="bold" text-anchor="end">ctl peptide</text>
<text transform="translate(312.49999999999994,832.3) rotate(-30.5)" font-size="12.8" font-weight="bold" text-anchor="end">untreated</text>
<text transform="translate(334.7,832.3) rotate(-30.5)" font-size="12.8" font-weight="bold" text-anchor="end">v6 peptide</text>
<text transform="translate(356.9,832.3) rotate(-30.5)" font-size="12.8" font-weight="bold" text-anchor="end">ctl peptide</text>
<text transform="translate(424.1,832.3) rotate(-30.5)" font-size="12.8" font-weight="bold" text-anchor="end">untreated</text>
<text transform="translate(446.3,832.3) rotate(-30.5)" font-size="12.8" font-weight="bold" text-anchor="end">v6 peptide</text>
<text transform="translate(468.5,832.3) rotate(-30.5)" font-size="12.8" font-weight="bold" text-anchor="end">ctl peptide</text>
<text transform="translate(89.62,1088.6) rotate(-30.5)" font-size="12.8" font-weight="bold" text-anchor="end">untreated</text>
<text transform="translate(111.30000000000001,1088.6) rotate(-30.5)" font-size="12.8" font-weight="bold" text-anchor="end">v6 peptide</text>
<text transform="translate(132.98,1088.6) rotate(-30.5)" font-size="12.8" font-weight="bold" text-anchor="end">ctl peptide</text>
<text transform="translate(198.61999999999998,1088.6) rotate(-30.5)" font-size="12.8" font-weight="bold" text-anchor="end">untreated</text>
<text transform="translate(220.29999999999998,1088.6) rotate(-30.5)" font-size="12.8" font-weight="bold" text-anchor="end">v6 peptide</text>
<text transform="translate(241.98,1088.6) rotate(-30.5)" font-size="12.8" font-weight="bold" text-anchor="end">ctl peptide</text>
<text transform="translate(307.62,1088.6) rotate(-30.5)" font-size="12.8" font-weight="bold" text-anchor="end">untreated</text>
<text transform="translate(329.3,1088.6) rotate(-30.5)" font-size="12.8" font-weight="bold" text-anchor="end">v6 peptide</text>
<text transform="translate(350.98,1088.6) rotate(-30.5)" font-size="12.8" font-weight="bold" text-anchor="end">ctl peptide</text>
<text transform="translate(416.62,1088.6) rotate(-30.5)" font-size="12.8" font-weight="bold" text-anchor="end">untreated</text>
<text transform="translate(438.3,1088.6) rotate(-30.5)" font-size="12.8" font-weight="bold" text-anchor="end">v6 peptide</text>
<text transform="translate(459.98,1088.6) rotate(-30.5)" font-size="12.8" font-weight="bold" text-anchor="end">ctl peptide</text>
</svg>
</body></html>
